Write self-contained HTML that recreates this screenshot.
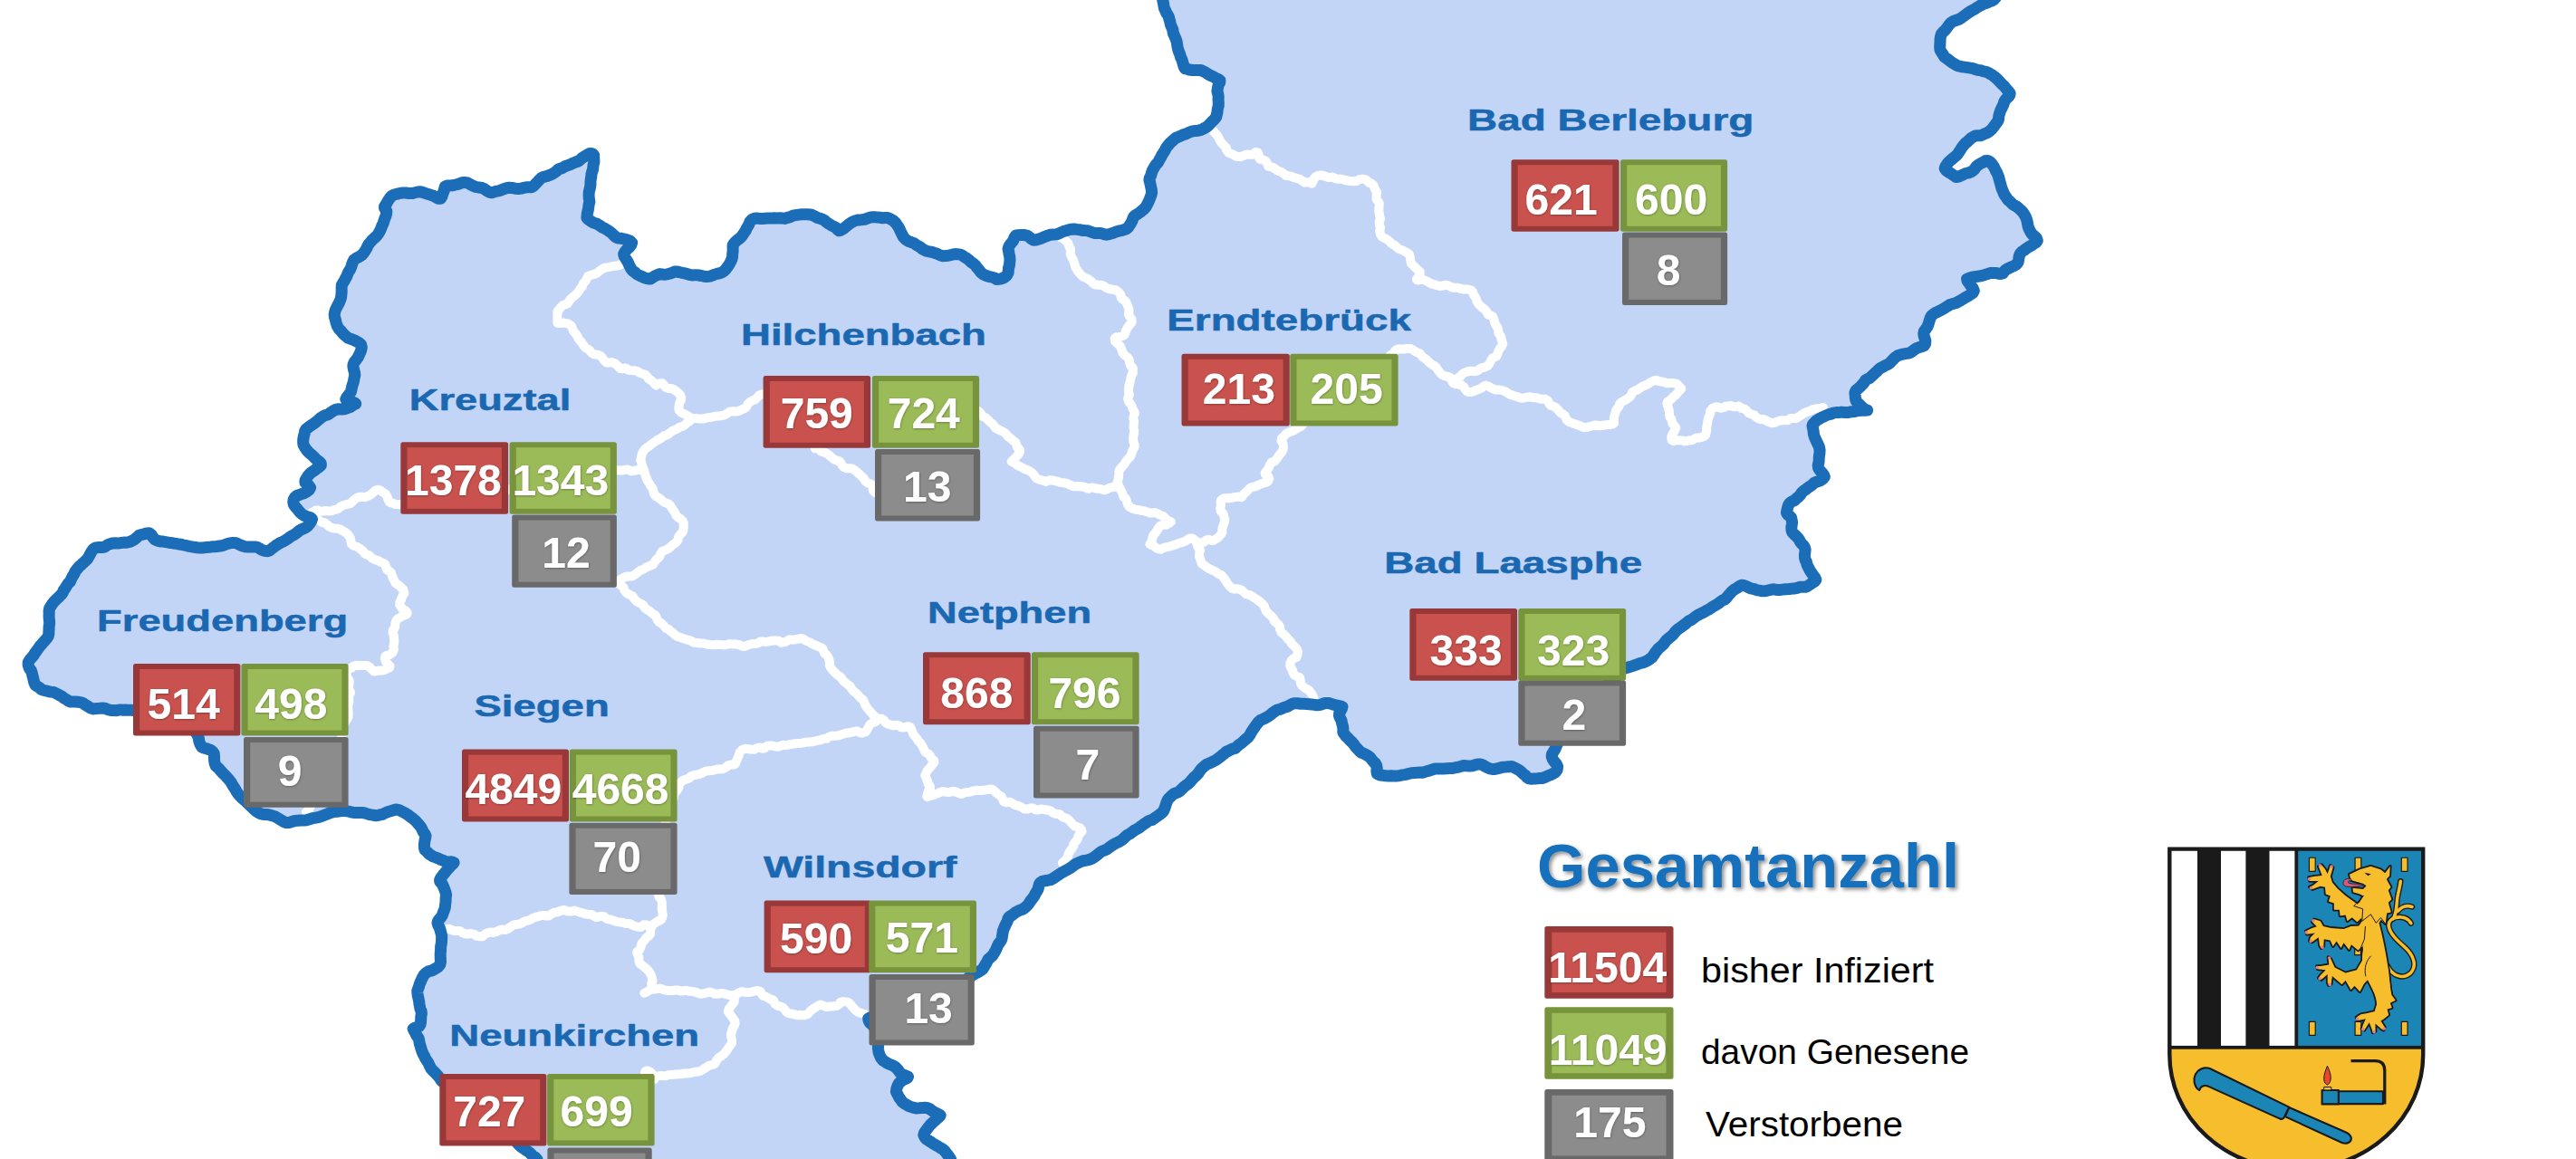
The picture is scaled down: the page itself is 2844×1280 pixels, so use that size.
<!DOCTYPE html>
<html lang="de"><head><meta charset="utf-8"><title>Corona-Fallzahlen Kreis Siegen-Wittgenstein</title>
<style>
html,body{margin:0;padding:0;background:#fff;}
body{width:2844px;height:1280px;overflow:hidden;}
svg{display:block}
</style></head><body>
<svg width="2844" height="1280" viewBox="0 0 2844 1280">
<defs>
<filter id="ts" x="-5%" y="-20%" width="110%" height="150%"><feDropShadow dx="2.5" dy="2.5" stdDeviation="2.2" flood-color="#000" flood-opacity="0.45"/></filter>
<filter id="ns" x="-10%" y="-20%" width="120%" height="150%"><feDropShadow dx="0.4" dy="0.7" stdDeviation="1.1" flood-color="#000" flood-opacity="0.38"/></filter>
</defs>
<rect width="2844" height="1280" fill="#fff"/>
<g>
<path d="M147.9 784.5 L144.4 784.2 L140.8 784.3 L138.4 784.0 L136.1 784.2 L133.8 784.0 L131.6 784.0 L128.6 784.7 L125.2 784.5 L122.2 784.4 L119.0 783.7 L115.8 782.2 L113.0 782.0 L109.8 782.3 L106.7 782.5 L103.3 782.9 L100.0 782.0 L96.9 780.0 L94.1 778.4 L91.9 776.8 L89.0 775.6 L86.1 775.3 L83.2 775.0 L80.2 775.0 L77.7 775.0 L75.5 774.0 L73.2 772.5 L70.8 771.1 L68.1 769.0 L65.3 767.6 L62.3 766.0 L59.0 764.4 L55.7 764.1 L52.0 763.2 L48.7 762.5 L45.7 761.4 L43.2 759.1 L40.8 757.8 L39.2 756.7 L38.4 755.3 L37.6 753.2 L37.0 750.3 L36.1 746.9 L35.2 743.0 L34.2 740.2 L32.7 738.8 L31.9 736.7 L31.2 734.2 L31.2 731.6 L32.9 728.7 L34.9 726.3 L36.8 724.2 L38.3 721.8 L40.1 719.2 L42.1 716.5 L43.9 713.8 L45.9 711.7 L47.7 709.4 L49.8 707.2 L51.8 705.0 L53.4 702.3 L53.9 699.6 L53.9 697.2 L54.1 694.9 L54.1 692.0 L54.6 689.1 L54.6 686.2 L54.2 683.1 L54.1 680.1 L54.2 677.4 L54.1 674.7 L54.7 671.7 L56.1 669.5 L57.6 667.1 L59.7 664.5 L61.6 662.5 L64.0 660.3 L66.0 658.3 L67.8 656.6 L69.4 654.2 L70.3 651.8 L72.1 649.6 L73.6 647.0 L75.2 644.5 L77.5 642.3 L78.8 639.2 L80.4 636.1 L82.1 633.5 L83.1 631.0 L85.0 628.6 L86.6 626.6 L88.0 625.2 L90.0 623.6 L91.7 621.8 L94.1 619.7 L96.5 617.3 L98.2 614.5 L99.5 612.0 L100.8 609.5 L102.8 606.7 L105.5 604.9 L109.1 604.6 L112.6 604.4 L115.0 604.2 L116.6 603.4 L118.6 601.9 L120.8 600.9 L123.8 600.0 L127.4 599.7 L130.5 600.1 L133.5 599.5 L136.6 599.1 L139.7 599.2 L143.0 598.5 L146.3 597.1 L149.2 595.2 L151.6 593.1 L153.6 591.2 L155.8 590.6 L158.7 590.0 L161.9 588.9 L164.6 588.7 L167.0 590.3 L168.8 593.3 L170.7 595.6 L173.9 597.2 L176.9 597.9 L179.9 598.0 L183.0 598.7 L186.2 599.2 L189.3 599.5 L192.2 600.1 L195.9 600.7 L199.5 601.2 L202.9 602.0 L206.3 602.7 L209.2 603.4 L211.8 603.8 L214.7 604.3 L217.5 604.7 L220.2 604.9 L223.7 604.9 L227.4 604.6 L230.8 604.3 L233.8 603.8 L236.5 603.7 L239.2 603.5 L242.6 603.0 L246.0 602.5 L248.6 601.5 L251.2 600.5 L253.9 599.9 L257.1 599.4 L260.9 599.8 L263.6 601.1 L266.7 602.5 L270.2 603.7 L273.9 604.0 L277.8 603.9 L281.3 603.9 L284.1 604.4 L286.3 605.6 L288.5 606.9 L290.9 607.9 L293.1 608.5 L295.6 608.7 L297.6 607.9 L299.4 606.4 L301.6 604.8 L303.9 603.0 L306.7 601.1 L309.5 599.5 L312.7 598.1 L315.2 596.7 L317.4 595.2 L319.6 593.6 L321.8 592.0 L324.4 590.7 L326.2 589.4 L328.2 588.0 L330.2 586.3 L332.4 584.9 L335.0 583.9 L337.4 582.7 L339.8 581.0 L341.8 578.5 L343.6 575.7 L344.5 573.2 L342.5 571.5 L339.5 570.8 L336.7 569.9 L334.1 568.4 L332.0 566.6 L329.9 564.2 L328.0 561.8 L326.0 559.6 L324.3 557.2 L323.8 554.4 L324.1 552.0 L325.3 549.6 L327.5 547.6 L330.1 546.6 L333.0 545.5 L335.6 544.7 L338.0 543.4 L341.3 541.0 L342.6 538.5 L340.9 536.2 L338.7 534.3 L336.9 532.9 L337.0 530.6 L338.4 528.2 L339.9 525.8 L342.1 523.2 L344.6 521.2 L346.9 519.7 L349.4 517.8 L352.1 515.9 L354.3 514.2 L354.3 511.9 L352.7 509.9 L350.4 508.4 L348.3 506.5 L346.2 504.3 L343.7 502.0 L341.3 500.0 L339.2 497.8 L337.5 495.5 L336.3 493.7 L335.0 491.1 L334.6 488.0 L334.8 485.0 L335.4 481.7 L336.2 478.6 L336.7 476.1 L338.0 473.9 L340.5 472.0 L343.1 470.1 L345.7 468.3 L348.8 466.1 L351.7 463.6 L354.1 461.5 L356.8 459.8 L359.1 458.6 L361.3 458.2 L363.1 457.3 L364.9 455.8 L367.4 454.2 L370.1 452.6 L373.1 451.8 L377.1 452.1 L380.6 451.7 L383.6 450.6 L386.6 449.6 L388.8 448.1 L391.0 446.6 L392.7 445.9 L391.8 445.1 L389.5 444.0 L386.7 443.7 L383.6 442.7 L381.8 440.9 L382.6 439.2 L384.2 437.1 L385.8 435.0 L387.4 432.8 L388.1 429.8 L388.8 426.4 L389.9 423.0 L390.6 420.3 L391.1 417.4 L391.8 414.2 L391.5 411.3 L390.4 407.6 L389.9 404.6 L390.0 402.6 L391.2 399.9 L393.3 397.3 L395.1 394.8 L396.7 391.5 L397.9 388.9 L398.7 386.6 L399.3 383.5 L398.6 380.7 L395.8 378.2 L392.2 376.3 L389.1 375.0 L386.8 374.1 L384.6 373.4 L382.8 371.9 L380.7 370.2 L378.4 368.0 L376.6 365.6 L374.4 363.4 L372.4 360.3 L371.2 356.7 L370.4 353.2 L369.4 349.8 L369.2 346.8 L369.8 344.2 L370.5 341.9 L371.7 339.6 L372.9 337.2 L374.3 334.6 L375.5 331.8 L376.3 329.6 L376.7 327.3 L377.0 324.4 L377.2 321.7 L377.1 318.2 L377.3 314.9 L378.6 312.5 L380.2 310.0 L381.6 307.3 L382.9 305.0 L383.9 302.3 L384.8 300.1 L386.4 298.0 L387.7 295.0 L388.5 292.2 L389.5 289.6 L390.8 287.1 L393.4 285.2 L396.5 283.7 L399.6 281.6 L401.8 279.0 L403.3 276.7 L404.9 274.0 L405.8 271.8 L407.1 269.7 L408.9 267.5 L411.0 265.0 L413.6 262.7 L416.3 260.1 L418.1 257.5 L419.5 255.0 L420.8 252.1 L421.7 249.5 L422.9 247.1 L423.9 244.2 L424.9 241.1 L426.0 238.3 L426.7 235.4 L426.8 233.1 L425.8 231.8 L424.6 229.9 L424.5 228.0 L425.9 226.1 L427.5 223.4 L429.0 220.8 L430.8 218.2 L432.5 216.3 L435.0 215.1 L437.3 214.4 L439.5 214.0 L442.4 213.3 L445.2 213.1 L448.3 213.0 L451.5 213.6 L454.8 213.6 L458.0 212.8 L461.4 212.0 L464.3 211.7 L466.7 212.5 L469.4 213.4 L472.0 214.3 L474.9 215.1 L478.3 216.2 L481.4 218.0 L484.2 219.3 L486.5 219.3 L487.9 217.1 L488.9 213.7 L490.1 210.9 L490.8 208.0 L491.3 206.0 L493.4 205.1 L496.6 205.0 L499.5 204.8 L503.2 204.0 L506.8 203.1 L509.4 202.0 L512.7 201.4 L516.2 202.0 L519.1 203.6 L522.2 205.2 L525.2 206.4 L528.1 207.0 L531.0 207.2 L534.2 208.4 L536.8 210.2 L538.5 211.3 L540.7 212.3 L543.0 212.8 L545.2 212.1 L547.9 211.2 L550.4 210.9 L553.1 210.0 L556.1 208.7 L559.2 207.7 L562.2 207.2 L565.1 207.5 L568.8 208.2 L572.4 208.5 L575.6 208.1 L578.6 207.3 L581.0 206.8 L583.5 206.8 L586.7 206.7 L589.3 205.3 L591.5 202.8 L593.8 200.5 L595.7 198.4 L597.8 196.4 L600.4 195.3 L603.8 194.5 L607.5 193.2 L610.7 191.6 L613.3 189.9 L615.1 188.3 L616.4 186.9 L618.4 186.3 L620.9 185.5 L623.4 183.9 L626.3 182.8 L629.7 181.6 L632.6 180.2 L635.5 179.0 L638.5 178.0 L640.7 176.3 L642.8 174.4 L645.3 172.9 L648.2 171.0 L651.3 169.4 L654.1 169.7 L655.7 171.4 L655.6 173.7 L655.8 176.3 L655.9 179.0 L655.2 181.6 L654.8 184.5 L654.7 186.8 L653.9 189.0 L653.0 192.2 L652.7 195.6 L652.2 198.6 L651.9 201.3 L652.0 203.7 L651.7 206.0 L651.0 209.2 L650.2 212.4 L650.1 215.7 L650.2 218.4 L650.5 220.2 L650.9 222.9 L650.2 225.4 L649.8 228.4 L649.3 232.2 L648.5 234.9 L648.1 237.9 L647.9 240.6 L649.2 242.0 L652.0 244.1 L655.4 246.1 L659.2 247.3 L662.6 249.3 L665.0 251.2 L667.2 252.1 L669.5 253.4 L672.0 255.0 L674.8 257.0 L677.4 259.6 L680.0 262.0 L682.8 263.1 L685.9 263.3 L689.2 264.0 L692.1 264.8 L695.6 266.1 L697.6 268.1 L696.9 270.4 L694.9 273.0 L692.2 275.3 L689.9 278.1 L688.7 280.6 L689.4 283.4 L691.6 286.9 L693.3 289.7 L694.7 292.9 L695.9 295.1 L696.8 297.0 L698.7 299.2 L701.1 300.9 L703.4 303.0 L706.5 304.5 L709.5 305.8 L712.4 307.2 L715.9 307.9 L718.5 307.9 L720.5 306.3 L723.0 304.9 L725.8 303.6 L728.4 302.6 L731.4 303.0 L734.4 303.2 L736.9 302.8 L740.0 302.0 L742.7 300.9 L744.7 300.1 L747.0 300.0 L749.6 300.5 L753.2 301.3 L757.4 302.2 L760.9 303.3 L764.0 303.9 L766.7 303.8 L769.0 303.8 L771.5 304.0 L774.3 304.5 L777.3 305.2 L780.5 305.5 L783.9 305.1 L786.5 304.2 L789.2 303.1 L791.5 302.4 L793.6 302.0 L796.5 301.1 L799.0 299.7 L801.0 297.7 L803.2 294.8 L805.0 292.1 L806.5 289.4 L807.9 286.5 L808.6 283.7 L808.7 280.6 L809.1 277.6 L809.1 274.2 L809.1 271.0 L810.5 268.5 L812.4 266.6 L814.6 264.7 L817.3 262.7 L819.6 260.1 L821.6 257.0 L823.3 254.6 L824.2 252.3 L825.5 250.2 L826.8 248.0 L828.0 244.8 L830.4 242.3 L832.9 241.3 L835.5 241.0 L838.8 241.4 L841.5 241.4 L844.5 241.2 L847.5 241.0 L850.0 241.0 L852.6 241.1 L854.7 240.8 L857.7 240.9 L860.7 240.7 L863.6 241.0 L866.5 241.4 L868.5 240.6 L870.4 240.1 L872.9 239.4 L875.5 238.2 L878.5 237.6 L881.9 237.1 L885.4 236.7 L888.8 236.7 L891.8 236.7 L894.2 237.0 L896.3 237.3 L899.0 238.6 L902.4 240.4 L905.6 241.3 L908.3 242.3 L910.5 243.6 L912.2 245.1 L914.7 247.0 L917.9 248.9 L920.6 250.3 L922.8 251.4 L924.5 253.5 L926.4 254.8 L928.8 254.0 L931.4 252.4 L933.8 250.5 L935.7 248.8 L937.5 247.4 L940.0 245.8 L943.1 244.1 L946.4 243.1 L949.3 242.9 L952.0 242.6 L954.5 242.3 L957.0 241.4 L960.1 240.2 L963.4 239.8 L966.0 239.8 L968.7 240.1 L971.7 240.3 L974.4 240.7 L977.2 240.5 L980.0 240.5 L982.3 241.5 L984.2 242.5 L986.5 244.0 L988.9 246.3 L990.5 248.6 L992.3 251.2 L993.5 253.9 L994.6 256.2 L996.0 259.0 L997.5 261.9 L1000.0 264.6 L1002.8 266.4 L1005.0 267.2 L1007.2 268.0 L1009.2 268.7 L1010.9 270.1 L1013.6 271.6 L1016.3 273.2 L1018.4 275.0 L1020.9 276.4 L1023.3 277.3 L1026.2 278.0 L1029.1 278.4 L1031.7 279.3 L1034.4 280.2 L1037.1 281.5 L1040.5 282.8 L1044.0 282.6 L1047.0 282.2 L1050.1 281.6 L1053.3 280.7 L1056.1 280.6 L1059.4 280.9 L1062.4 282.0 L1064.3 283.5 L1067.0 285.1 L1070.0 287.4 L1072.2 289.5 L1074.8 291.2 L1077.0 293.1 L1078.3 295.1 L1080.0 297.0 L1081.7 299.1 L1083.2 301.2 L1085.4 302.9 L1088.2 304.3 L1091.4 305.3 L1094.4 306.0 L1096.7 306.5 L1098.6 307.4 L1100.3 308.5 L1102.5 308.3 L1105.6 307.8 L1108.9 306.4 L1111.5 304.3 L1113.1 301.3 L1113.3 298.1 L1113.5 295.9 L1114.4 293.0 L1114.7 290.1 L1115.0 287.1 L1114.8 283.8 L1114.2 281.2 L1113.7 278.0 L1113.1 274.9 L1113.7 272.7 L1114.9 270.5 L1116.9 268.0 L1118.7 265.7 L1119.7 262.7 L1121.4 260.2 L1124.0 259.7 L1127.4 259.5 L1131.0 259.6 L1134.4 260.4 L1136.7 262.0 L1138.9 264.1 L1141.2 265.3 L1143.1 265.1 L1145.7 264.4 L1148.6 263.6 L1151.0 262.5 L1153.8 261.3 L1156.7 260.2 L1159.6 259.3 L1163.0 259.1 L1166.4 258.8 L1169.1 257.8 L1171.7 256.6 L1174.0 255.6 L1176.4 254.9 L1179.3 254.0 L1182.4 253.2 L1185.8 253.0 L1188.8 253.4 L1191.7 253.7 L1194.8 254.4 L1197.7 254.6 L1200.5 254.7 L1203.7 255.8 L1206.2 256.8 L1208.6 257.4 L1211.8 257.5 L1214.2 257.4 L1216.5 257.8 L1219.1 258.8 L1221.6 259.2 L1224.7 258.6 L1228.4 257.6 L1232.1 256.0 L1235.7 255.0 L1239.0 254.4 L1241.4 253.5 L1243.5 252.8 L1245.6 251.2 L1246.8 249.2 L1248.4 246.7 L1249.9 244.1 L1250.6 241.9 L1251.8 239.4 L1253.5 237.7 L1256.1 236.3 L1258.9 234.3 L1261.0 232.5 L1263.1 230.7 L1264.9 228.8 L1266.2 226.5 L1267.6 223.7 L1269.0 220.6 L1270.1 217.7 L1271.0 215.3 L1271.6 212.8 L1271.4 209.9 L1270.7 206.7 L1270.1 203.7 L1269.6 201.1 L1268.9 199.0 L1269.2 196.7 L1270.6 194.0 L1271.5 190.8 L1272.6 187.8 L1274.3 184.9 L1275.9 182.2 L1277.7 180.3 L1279.2 178.3 L1280.3 175.9 L1281.7 173.6 L1282.7 171.3 L1284.6 168.5 L1286.2 166.0 L1287.5 163.3 L1289.8 160.4 L1292.0 157.7 L1294.1 155.9 L1295.9 154.2 L1298.3 152.2 L1300.8 151.3 L1303.1 150.3 L1306.5 148.7 L1309.7 147.7 L1312.5 146.3 L1315.7 145.2 L1318.3 144.7 L1320.2 144.4 L1323.0 144.2 L1326.4 143.4 L1329.3 141.8 L1331.7 140.5 L1333.9 138.8 L1335.9 136.7 L1338.0 134.4 L1340.9 131.6 L1342.9 128.7 L1343.3 126.7 L1343.8 125.0 L1344.0 123.2 L1344.3 120.5 L1345.2 117.0 L1345.3 113.6 L1345.0 109.8 L1345.2 106.3 L1344.6 103.4 L1343.9 100.6 L1344.3 98.2 L1344.7 95.7 L1345.4 93.3 L1346.7 91.2 L1346.9 88.9 L1344.8 87.4 L1341.9 86.1 L1339.2 84.5 L1336.4 83.4 L1333.7 81.8 L1331.1 80.1 L1328.4 78.7 L1325.7 77.5 L1322.9 77.4 L1319.6 77.4 L1316.3 77.5 L1313.1 77.0 L1310.5 76.1 L1308.5 75.8 L1307.4 74.3 L1306.5 71.6 L1305.7 68.6 L1304.7 65.5 L1303.5 63.1 L1303.0 61.2 L1302.4 59.1 L1301.1 56.1 L1300.2 52.5 L1299.6 49.1 L1299.1 45.8 L1298.2 43.2 L1297.1 40.7 L1296.1 38.4 L1295.2 36.2 L1294.9 33.1 L1293.7 30.2 L1292.4 27.3 L1291.7 23.7 L1290.8 20.8 L1290.3 18.4 L1289.0 16.1 L1287.7 14.3 L1286.8 11.9 L1285.5 9.2 L1284.9 6.3 L1284.4 3.2 L1283.7 0.3 L1283.9 -2.6 L1284.0 -5.9 L1283.9 -9.1 L1284.2 -12.1 L1284.3 -15.3 L1284.1 -18.5 L1283.4 -21.6 L1282.5 -24.3 L1281.9 -26.9 L1282.5 -28.7 L1285.2 -29.2 L1288.6 -29.6 L1291.8 -30.1 L1295.0 -30.6 L1298.3 -31.1 L1301.5 -31.5 L1304.3 -31.5 L1306.9 -31.6 L1309.2 -31.3 L1311.7 -31.2 L1313.9 -30.8 L1316.7 -29.9 L1319.6 -29.5 L1323.0 -29.1 L1326.5 -29.1 L1329.4 -29.9 L1332.8 -30.5 L1335.8 -30.8 L1338.8 -30.8 L1342.5 -30.4 L1345.5 -30.3 L1348.3 -30.6 L1351.5 -30.9 L1353.8 -31.4 L1356.0 -31.8 L1359.1 -31.6 L1362.1 -31.1 L1365.4 -30.8 L1369.3 -30.7 L1372.8 -31.0 L1376.0 -31.6 L1379.2 -31.4 L1382.2 -30.9 L1384.7 -30.5 L1387.1 -29.6 L1389.9 -29.0 L1393.0 -28.6 L1396.4 -28.6 L1400.0 -29.5 L1402.7 -30.2 L1404.8 -30.2 L1406.9 -29.6 L1409.8 -28.8 L1413.6 -28.9 L1417.3 -29.8 L1420.4 -30.2 L1423.5 -30.3 L1426.7 -29.8 L1429.8 -29.2 L1433.1 -29.0 L1436.0 -29.2 L1438.4 -29.8 L1441.5 -30.5 L1444.8 -31.1 L1447.6 -31.2 L1450.4 -30.5 L1453.3 -29.5 L1456.5 -28.8 L1459.6 -28.3 L1462.9 -28.1 L1466.0 -28.2 L1468.4 -28.5 L1471.0 -28.8 L1473.8 -28.9 L1476.3 -29.1 L1479.5 -29.2 L1483.2 -29.3 L1486.2 -29.6 L1489.2 -29.8 L1492.4 -29.6 L1495.8 -29.7 L1498.9 -29.8 L1501.9 -29.5 L1504.6 -29.3 L1506.8 -29.4 L1509.9 -29.5 L1513.1 -29.6 L1516.5 -30.0 L1520.2 -30.0 L1523.2 -29.5 L1526.4 -30.0 L1529.5 -30.1 L1532.3 -30.2 L1535.3 -31.0 L1538.0 -31.2 L1540.9 -30.9 L1543.9 -30.4 L1546.6 -29.8 L1549.2 -29.0 L1551.8 -28.6 L1554.4 -28.6 L1556.8 -28.5 L1559.8 -29.1 L1562.8 -29.6 L1565.9 -29.9 L1569.9 -30.4 L1573.8 -30.3 L1576.9 -30.0 L1579.2 -30.0 L1581.8 -30.2 L1584.5 -30.0 L1587.6 -30.2 L1591.5 -30.2 L1594.9 -29.4 L1597.5 -29.3 L1600.7 -29.2 L1603.4 -29.2 L1605.6 -29.6 L1608.2 -29.6 L1611.0 -30.4 L1614.5 -30.8 L1618.8 -30.6 L1622.3 -30.1 L1625.0 -29.6 L1627.0 -29.4 L1629.1 -29.6 L1632.3 -30.4 L1635.8 -31.0 L1639.1 -30.9 L1642.2 -30.9 L1644.7 -30.7 L1647.2 -29.7 L1649.8 -29.2 L1652.7 -28.7 L1655.9 -28.6 L1658.9 -29.2 L1661.8 -30.0 L1664.9 -30.5 L1668.4 -29.9 L1672.0 -29.1 L1675.8 -28.6 L1679.1 -28.9 L1681.2 -30.0 L1683.6 -31.0 L1686.7 -31.6 L1690.2 -30.9 L1693.5 -29.8 L1697.0 -29.2 L1699.7 -28.9 L1702.2 -28.8 L1705.4 -29.1 L1707.9 -29.3 L1710.5 -29.4 L1713.1 -29.3 L1715.3 -29.0 L1718.1 -28.2 L1721.5 -27.7 L1725.0 -27.7 L1728.5 -27.9 L1731.6 -28.0 L1734.4 -28.6 L1737.5 -29.6 L1740.7 -30.3 L1743.5 -31.2 L1746.5 -30.9 L1749.4 -29.8 L1752.7 -29.1 L1756.6 -28.8 L1759.4 -29.1 L1761.7 -29.5 L1764.0 -29.7 L1766.7 -29.5 L1769.8 -29.5 L1773.2 -30.1 L1776.8 -30.2 L1780.0 -29.7 L1783.2 -28.9 L1786.4 -28.0 L1789.3 -28.1 L1792.4 -29.0 L1795.4 -29.5 L1798.6 -29.7 L1802.0 -29.7 L1805.2 -29.7 L1808.7 -30.2 L1811.5 -30.5 L1813.6 -30.0 L1816.2 -29.7 L1818.7 -29.5 L1822.0 -29.4 L1825.9 -30.0 L1829.3 -30.1 L1832.6 -29.8 L1835.2 -29.2 L1837.4 -28.9 L1840.0 -29.3 L1842.5 -29.7 L1845.6 -29.8 L1848.7 -30.0 L1851.3 -29.8 L1854.6 -29.9 L1858.0 -30.6 L1861.1 -30.3 L1863.9 -29.7 L1866.3 -29.8 L1868.7 -30.0 L1871.8 -30.4 L1875.7 -30.6 L1879.3 -30.4 L1882.6 -30.6 L1885.6 -30.8 L1888.1 -31.4 L1891.0 -31.3 L1893.8 -30.7 L1896.9 -30.0 L1900.5 -29.2 L1903.4 -28.9 L1906.6 -29.0 L1909.5 -29.1 L1911.8 -29.0 L1915.0 -29.4 L1918.2 -29.6 L1920.6 -29.2 L1923.6 -29.7 L1926.6 -30.2 L1929.8 -30.7 L1933.8 -31.1 L1937.1 -30.8 L1939.5 -30.0 L1941.5 -29.6 L1943.4 -29.8 L1945.8 -29.9 L1949.1 -30.1 L1952.6 -29.6 L1956.0 -29.3 L1959.6 -29.6 L1962.9 -29.5 L1965.6 -29.3 L1968.9 -29.4 L1971.9 -29.6 L1975.0 -30.0 L1978.5 -30.8 L1981.1 -31.0 L1983.5 -30.3 L1986.2 -29.9 L1989.1 -29.6 L1992.2 -29.5 L1995.7 -29.6 L1999.0 -29.3 L2001.5 -29.1 L2004.6 -29.3 L2007.7 -29.6 L2011.0 -30.5 L2014.7 -30.5 L2017.9 -29.9 L2020.7 -29.4 L2022.9 -29.0 L2025.8 -29.1 L2028.5 -29.4 L2031.6 -30.0 L2035.1 -29.8 L2037.8 -29.2 L2041.1 -28.9 L2044.6 -28.7 L2047.7 -28.9 L2051.1 -29.4 L2053.7 -30.2 L2056.4 -30.6 L2059.1 -30.1 L2061.7 -29.8 L2064.8 -29.7 L2067.4 -29.4 L2070.1 -29.1 L2073.0 -29.0 L2075.8 -28.6 L2078.5 -28.9 L2081.5 -29.8 L2084.9 -30.7 L2088.2 -31.3 L2091.8 -31.5 L2095.3 -31.2 L2098.3 -30.8 L2101.8 -30.9 L2104.8 -31.1 L2107.2 -31.1 L2110.0 -31.1 L2112.6 -31.1 L2115.4 -30.7 L2118.0 -30.4 L2120.7 -30.4 L2123.6 -29.9 L2126.8 -29.7 L2130.5 -30.0 L2134.0 -30.6 L2136.8 -30.9 L2139.9 -31.3 L2143.3 -31.3 L2146.4 -31.3 L2149.2 -31.6 L2152.0 -31.5 L2154.9 -31.0 L2158.1 -30.0 L2161.7 -29.4 L2164.5 -29.4 L2167.2 -30.1 L2169.5 -30.7 L2172.3 -30.6 L2175.5 -30.2 L2178.7 -30.1 L2182.5 -30.5 L2185.7 -30.3 L2188.7 -30.1 L2191.4 -30.0 L2193.6 -29.8 L2196.2 -30.1 L2198.6 -30.1 L2201.6 -29.9 L2205.3 -29.9 L2208.6 -30.1 L2211.4 -30.6 L2213.5 -29.7 L2213.6 -27.3 L2212.4 -24.9 L2211.7 -22.1 L2210.2 -19.5 L2208.2 -16.8 L2207.4 -13.5 L2206.9 -10.9 L2206.3 -8.3 L2205.2 -5.6 L2203.6 -3.2 L2201.5 -0.6 L2198.8 1.1 L2196.2 1.9 L2193.5 3.3 L2190.7 4.1 L2188.1 5.2 L2185.3 6.7 L2182.3 8.5 L2179.9 10.2 L2177.8 11.3 L2175.2 12.7 L2172.9 14.2 L2170.4 16.1 L2167.3 18.4 L2164.8 20.2 L2162.4 21.5 L2159.3 22.5 L2156.2 23.6 L2153.9 25.1 L2151.8 27.5 L2150.2 29.7 L2148.9 31.5 L2147.3 33.5 L2145.2 35.4 L2143.3 37.7 L2142.5 40.5 L2142.1 43.1 L2142.0 46.2 L2141.8 49.3 L2141.7 52.3 L2142.0 55.2 L2143.4 57.4 L2145.0 60.0 L2146.7 62.7 L2149.7 64.9 L2152.5 67.1 L2154.8 68.9 L2157.4 70.4 L2159.9 71.9 L2162.5 73.0 L2165.6 73.7 L2168.9 74.1 L2172.4 74.6 L2175.4 75.1 L2178.5 75.6 L2181.2 76.8 L2183.6 77.4 L2187.0 77.8 L2190.0 78.8 L2192.9 79.3 L2195.7 80.6 L2197.9 82.1 L2199.8 83.1 L2202.3 85.0 L2205.2 87.5 L2207.5 90.0 L2210.2 92.9 L2213.1 95.6 L2215.0 98.1 L2217.4 100.7 L2219.1 103.1 L2218.7 105.1 L2217.1 107.1 L2214.8 109.2 L2212.9 111.9 L2211.9 115.3 L2210.4 118.5 L2208.7 121.9 L2207.6 125.4 L2206.9 127.6 L2206.6 129.7 L2206.4 132.1 L2205.4 134.2 L2203.4 136.9 L2201.2 139.9 L2199.1 142.7 L2196.6 144.9 L2194.3 146.5 L2191.7 147.6 L2189.0 148.7 L2186.6 149.7 L2183.7 149.7 L2180.8 150.0 L2178.8 151.1 L2176.6 152.2 L2174.5 154.2 L2172.3 156.4 L2169.9 158.1 L2167.9 160.5 L2166.0 162.8 L2164.8 164.9 L2163.4 167.1 L2161.5 170.0 L2159.4 172.2 L2156.7 174.3 L2154.2 176.5 L2152.1 178.2 L2149.9 180.8 L2148.0 183.6 L2147.2 186.1 L2148.8 188.5 L2151.9 190.4 L2154.5 192.0 L2157.2 193.9 L2159.6 195.5 L2162.1 195.1 L2164.6 194.1 L2167.1 193.0 L2170.1 191.5 L2173.5 190.8 L2176.4 189.7 L2178.5 188.2 L2180.0 186.9 L2181.2 184.8 L2182.9 183.1 L2184.8 181.6 L2187.0 180.4 L2189.5 179.3 L2191.7 177.8 L2194.6 177.4 L2196.9 178.5 L2199.0 180.9 L2201.3 184.0 L2202.5 186.6 L2203.6 188.9 L2204.8 190.9 L2205.5 192.6 L2206.5 195.1 L2207.2 198.0 L2208.1 201.2 L2209.1 204.8 L2209.9 207.8 L2211.2 210.8 L2212.2 213.5 L2213.3 215.5 L2214.9 217.8 L2216.5 220.3 L2219.0 222.5 L2220.9 224.4 L2222.3 225.9 L2224.3 227.0 L2226.4 228.1 L2228.5 229.8 L2230.6 231.7 L2232.8 233.9 L2234.9 236.7 L2236.6 239.9 L2237.8 243.2 L2238.5 246.6 L2239.0 249.5 L2239.8 252.1 L2241.1 254.8 L2242.3 256.8 L2243.7 258.9 L2246.2 260.9 L2248.4 263.0 L2249.3 265.7 L2247.7 267.9 L2244.6 269.9 L2241.8 271.6 L2239.3 273.0 L2236.8 274.8 L2234.8 276.3 L2232.5 277.7 L2230.4 279.9 L2229.3 282.6 L2228.7 286.3 L2228.0 289.5 L2226.5 291.7 L2223.9 293.4 L2220.7 294.7 L2217.4 296.4 L2214.4 298.0 L2212.5 300.0 L2211.4 301.7 L2209.2 302.4 L2206.3 302.2 L2202.8 301.4 L2198.5 301.4 L2195.1 302.3 L2192.4 303.2 L2189.4 304.2 L2186.6 304.8 L2183.5 305.2 L2180.2 305.7 L2177.1 306.2 L2173.9 307.2 L2171.6 308.2 L2172.0 310.1 L2173.9 312.7 L2175.7 315.4 L2178.1 318.2 L2179.3 321.2 L2178.0 323.6 L2175.7 325.1 L2173.2 326.7 L2170.4 328.2 L2167.7 330.0 L2164.8 331.7 L2161.9 333.3 L2158.8 334.8 L2155.4 335.7 L2152.5 336.7 L2150.0 338.3 L2147.5 339.9 L2145.0 341.3 L2142.4 342.8 L2139.2 344.4 L2136.6 345.5 L2134.3 347.1 L2132.4 348.7 L2131.1 351.2 L2130.1 354.4 L2129.2 357.6 L2128.0 360.7 L2126.1 363.4 L2124.3 366.0 L2123.8 368.2 L2124.1 370.9 L2124.9 373.5 L2125.8 376.1 L2125.6 379.6 L2124.2 381.9 L2120.8 383.0 L2117.2 384.1 L2114.8 385.3 L2112.2 387.2 L2109.9 389.0 L2107.3 390.1 L2103.9 390.5 L2100.9 391.1 L2098.0 391.8 L2094.9 392.9 L2092.4 394.7 L2090.4 396.7 L2088.4 398.8 L2086.5 400.8 L2084.3 402.4 L2081.5 403.7 L2078.9 405.2 L2076.4 406.4 L2074.1 408.0 L2072.2 410.1 L2069.6 412.4 L2066.4 415.4 L2064.1 417.6 L2061.7 418.7 L2059.6 419.9 L2058.6 421.7 L2056.5 424.3 L2053.9 427.0 L2051.3 429.3 L2048.8 431.5 L2047.9 433.9 L2048.2 436.8 L2048.4 439.4 L2048.8 441.7 L2049.4 443.2 L2050.8 444.9 L2053.0 446.9 L2055.5 449.2 L2058.1 451.5 L2060.6 452.7 L2061.6 453.1 L2059.3 453.2 L2055.7 453.3 L2052.6 453.4 L2049.7 454.0 L2047.1 454.5 L2044.5 454.7 L2040.9 455.4 L2036.7 455.5 L2033.0 455.1 L2029.9 455.6 L2027.2 455.6 L2024.7 455.9 L2021.6 457.1 L2018.4 457.9 L2014.9 459.4 L2011.9 460.8 L2009.4 462.1 L2006.6 463.8 L2004.8 465.1 L2003.3 466.7 L2001.6 468.5 L2001.0 470.2 L2001.3 472.1 L2001.8 474.5 L2002.2 476.9 L2002.4 479.6 L2003.4 482.7 L2004.9 486.1 L2006.7 489.9 L2008.4 493.5 L2009.1 497.2 L2008.9 500.7 L2008.5 503.1 L2008.2 505.8 L2008.2 508.7 L2007.9 510.9 L2007.2 514.0 L2007.6 517.2 L2008.9 519.1 L2011.2 521.6 L2013.5 524.5 L2014.3 526.6 L2012.3 529.0 L2009.2 531.0 L2006.0 531.9 L2002.8 533.4 L2000.5 535.6 L1998.0 537.3 L1995.4 539.2 L1993.5 540.7 L1991.4 542.0 L1989.2 544.2 L1987.4 546.9 L1985.2 549.1 L1982.8 551.1 L1981.1 552.7 L1979.1 553.5 L1977.0 554.8 L1975.6 556.2 L1974.4 558.2 L1973.5 561.2 L1972.8 564.1 L1972.5 566.4 L1973.8 568.4 L1976.1 570.1 L1977.6 571.7 L1978.1 574.2 L1978.6 576.7 L1978.3 579.2 L1977.8 582.2 L1978.0 585.4 L1978.8 587.9 L1980.7 590.0 L1983.0 592.0 L1984.6 593.7 L1986.3 595.8 L1987.4 598.2 L1989.0 600.4 L1991.1 602.4 L1992.4 604.6 L1993.1 607.1 L1992.8 610.1 L1992.4 612.8 L1992.5 615.8 L1993.2 618.5 L1994.3 620.3 L1994.8 622.8 L1995.7 625.1 L1996.9 627.3 L1998.3 630.2 L2000.2 633.0 L2002.1 635.7 L2004.0 638.2 L2004.8 640.3 L2003.4 642.2 L2000.6 643.9 L1997.6 646.0 L1995.4 647.5 L1993.0 648.3 L1990.0 648.3 L1987.0 648.3 L1984.0 649.4 L1981.5 649.9 L1978.8 650.1 L1975.3 650.5 L1971.5 650.7 L1967.8 651.1 L1964.5 651.6 L1961.4 651.4 L1958.5 650.8 L1955.2 651.2 L1952.0 652.0 L1949.1 652.7 L1946.0 652.8 L1943.5 652.3 L1940.7 651.9 L1938.3 651.2 L1936.2 650.5 L1933.0 649.8 L1930.1 648.7 L1927.6 647.3 L1924.9 646.4 L1923.1 646.2 L1920.6 647.4 L1917.8 649.4 L1914.9 651.0 L1912.1 653.1 L1910.1 655.5 L1908.1 657.7 L1906.2 660.1 L1904.0 662.1 L1901.7 663.0 L1899.5 664.5 L1897.1 666.5 L1894.6 668.1 L1891.6 669.7 L1888.8 671.6 L1886.3 673.2 L1883.6 674.6 L1880.8 676.3 L1878.1 677.5 L1875.3 678.9 L1872.3 680.7 L1869.7 682.8 L1867.0 684.7 L1864.6 685.7 L1863.1 687.1 L1861.3 688.6 L1859.2 690.1 L1856.3 692.2 L1853.8 694.0 L1851.6 695.7 L1849.4 697.9 L1847.2 700.8 L1844.3 703.3 L1841.6 705.4 L1839.8 707.1 L1838.3 709.0 L1837.0 710.9 L1835.0 712.9 L1832.3 715.2 L1830.4 716.9 L1829.0 718.8 L1827.3 720.9 L1825.7 723.4 L1823.9 726.0 L1821.5 727.8 L1819.4 729.4 L1816.7 730.7 L1813.7 731.8 L1811.2 732.3 L1808.8 733.3 L1806.9 734.1 L1804.4 734.8 L1801.2 736.0 L1797.7 736.9 L1794.2 737.9 L1791.6 738.7 L1789.6 740.7 L1787.5 742.7 L1785.9 744.9 L1784.4 747.4 L1782.8 749.1 L1781.0 751.3 L1778.1 753.7 L1774.7 755.8 L1771.5 757.9 L1769.4 760.0 L1767.8 762.1 L1766.0 764.9 L1764.4 768.0 L1762.2 770.5 L1760.0 772.5 L1758.2 774.4 L1756.1 776.4 L1754.3 778.1 L1752.5 780.2 L1750.6 782.6 L1748.8 785.0 L1746.9 787.9 L1745.2 790.3 L1743.4 792.4 L1741.7 794.9 L1739.6 797.3 L1737.6 800.0 L1735.3 802.6 L1732.9 804.8 L1731.2 806.9 L1729.2 808.7 L1727.3 810.7 L1725.4 813.1 L1722.8 815.4 L1721.1 817.8 L1719.7 820.7 L1718.4 823.6 L1717.1 826.9 L1715.0 830.3 L1713.4 833.0 L1713.2 835.6 L1714.1 838.2 L1715.8 840.9 L1718.2 843.6 L1719.6 846.5 L1719.1 850.1 L1717.1 852.9 L1714.2 854.6 L1711.7 855.8 L1709.4 856.6 L1706.3 858.1 L1703.0 859.4 L1699.8 859.6 L1697.5 859.8 L1695.4 859.9 L1693.2 859.9 L1690.9 860.3 L1688.1 859.9 L1685.9 858.5 L1684.2 856.5 L1681.7 854.6 L1679.5 852.5 L1677.1 850.5 L1674.3 849.1 L1671.8 847.7 L1669.1 846.6 L1666.0 846.7 L1662.4 847.0 L1658.9 847.2 L1655.7 848.2 L1652.8 848.8 L1650.2 849.4 L1647.5 849.4 L1644.7 848.9 L1641.8 847.6 L1639.2 846.2 L1637.1 844.9 L1634.7 843.9 L1631.7 843.9 L1628.7 844.8 L1625.7 845.7 L1622.7 845.9 L1620.4 845.9 L1618.3 845.7 L1616.0 845.5 L1613.5 846.3 L1610.6 847.1 L1607.6 847.7 L1604.0 848.4 L1600.5 848.6 L1597.2 848.8 L1593.2 849.0 L1590.0 848.9 L1587.4 849.0 L1584.2 849.1 L1581.2 850.0 L1578.2 850.9 L1574.5 852.0 L1571.2 853.2 L1568.3 853.0 L1564.7 853.2 L1561.6 853.6 L1558.3 853.7 L1555.0 854.6 L1551.9 855.4 L1548.5 855.9 L1545.9 856.4 L1543.9 856.7 L1541.3 857.0 L1538.8 856.9 L1535.9 856.8 L1532.5 856.9 L1529.5 856.8 L1526.0 856.2 L1522.6 855.7 L1520.2 854.3 L1519.9 851.5 L1520.2 848.3 L1519.7 845.4 L1518.4 843.0 L1516.3 841.2 L1514.4 838.9 L1512.6 836.3 L1509.9 834.5 L1507.4 833.1 L1505.1 831.9 L1502.5 831.0 L1500.6 829.1 L1498.7 826.9 L1496.8 825.1 L1495.1 822.5 L1492.9 819.9 L1490.4 817.6 L1488.1 815.0 L1486.1 813.3 L1485.0 811.8 L1483.8 810.3 L1482.8 808.5 L1482.9 805.5 L1482.6 802.4 L1481.7 799.1 L1480.9 795.5 L1479.5 792.9 L1478.5 790.3 L1478.7 787.5 L1480.0 785.2 L1481.4 782.6 L1481.9 780.6 L1480.1 779.8 L1476.4 779.2 L1472.6 778.2 L1469.0 777.1 L1466.1 776.4 L1463.9 776.5 L1461.3 777.0 L1459.0 777.9 L1456.6 778.6 L1453.8 778.8 L1451.3 778.4 L1447.9 777.9 L1443.6 777.6 L1439.8 777.2 L1436.1 777.2 L1432.6 776.7 L1429.6 776.7 L1426.5 777.4 L1424.0 778.7 L1421.6 780.2 L1418.8 781.0 L1416.2 782.1 L1413.0 783.4 L1410.0 784.0 L1407.9 785.3 L1405.7 786.8 L1403.7 788.5 L1401.0 790.7 L1397.7 792.6 L1394.6 794.1 L1391.5 795.5 L1389.6 797.1 L1388.3 798.9 L1386.6 801.0 L1385.1 803.3 L1383.2 806.0 L1381.4 808.8 L1379.9 811.6 L1378.3 814.0 L1376.2 815.8 L1373.6 818.0 L1370.8 820.6 L1368.0 822.4 L1365.7 824.5 L1363.7 826.3 L1361.1 826.9 L1358.6 828.1 L1356.1 829.4 L1353.6 830.4 L1351.8 832.3 L1349.1 834.3 L1345.9 836.8 L1342.8 839.2 L1339.3 841.0 L1336.8 842.3 L1334.8 843.1 L1332.0 844.3 L1329.3 846.5 L1326.7 848.8 L1324.6 851.5 L1322.9 854.1 L1321.4 855.8 L1320.0 857.1 L1318.0 858.8 L1316.2 860.8 L1314.6 862.9 L1312.1 865.4 L1309.2 867.5 L1306.8 869.4 L1304.4 871.8 L1302.4 873.7 L1300.9 874.8 L1298.3 875.7 L1295.8 876.8 L1293.6 878.7 L1291.1 881.1 L1289.3 883.2 L1287.9 886.4 L1286.6 890.5 L1285.3 894.1 L1283.9 896.7 L1282.0 898.2 L1280.1 899.8 L1277.7 901.5 L1274.6 903.6 L1272.1 905.4 L1269.5 906.0 L1267.4 907.0 L1265.5 908.6 L1263.1 910.1 L1260.2 912.2 L1257.4 914.4 L1255.1 915.7 L1252.5 917.0 L1250.0 918.9 L1247.6 920.7 L1244.7 922.2 L1242.0 924.6 L1239.9 926.7 L1237.8 928.2 L1235.2 929.8 L1232.3 931.1 L1229.8 932.4 L1227.2 934.2 L1224.4 936.1 L1222.0 938.0 L1218.9 939.3 L1215.8 940.5 L1213.4 942.4 L1210.9 944.6 L1208.3 946.5 L1205.2 948.4 L1202.5 949.4 L1200.6 949.8 L1197.9 950.3 L1195.3 950.9 L1192.7 951.8 L1189.4 953.3 L1187.0 954.7 L1184.7 956.3 L1182.0 958.4 L1179.7 959.8 L1177.0 961.2 L1174.5 962.6 L1171.7 964.1 L1168.4 966.3 L1165.6 968.2 L1162.5 970.2 L1159.7 971.7 L1157.1 972.2 L1153.6 972.7 L1150.4 973.6 L1148.2 975.1 L1147.2 977.3 L1146.6 979.8 L1146.0 982.2 L1144.7 984.3 L1143.1 987.0 L1141.6 989.9 L1139.7 992.6 L1137.7 995.0 L1136.0 997.7 L1134.0 1000.2 L1131.5 1002.5 L1128.9 1004.2 L1125.8 1005.3 L1122.9 1006.8 L1121.0 1007.8 L1118.7 1009.6 L1116.7 1011.2 L1114.7 1012.1 L1112.9 1014.6 L1112.2 1017.5 L1110.9 1019.9 L1109.5 1022.8 L1108.4 1025.4 L1107.4 1028.1 L1106.8 1031.8 L1106.3 1035.0 L1105.8 1037.5 L1104.2 1040.2 L1102.2 1042.8 L1100.9 1045.7 L1099.3 1049.5 L1097.4 1052.8 L1095.7 1055.4 L1093.4 1057.6 L1091.2 1059.2 L1090.0 1061.5 L1088.5 1064.4 L1086.8 1067.2 L1085.3 1069.8 L1083.5 1071.4 L1081.7 1072.5 L1079.4 1073.8 L1076.7 1075.1 L1074.0 1076.8 L1071.3 1078.4 L1068.8 1080.4 L1066.1 1082.3 L1063.6 1083.8 L1060.8 1085.5 L1058.1 1086.5 L1055.9 1087.0 L1052.7 1088.2 L1049.6 1089.2 L1046.4 1090.4 L1043.1 1092.2 L1041.0 1093.9 L1039.4 1095.1 L1037.7 1096.2 L1035.6 1097.1 L1032.3 1097.9 L1028.6 1098.5 L1024.6 1099.4 L1020.9 1100.6 L1017.9 1101.4 L1015.3 1102.0 L1013.5 1102.9 L1011.1 1103.7 L1008.7 1104.6 L1006.2 1105.8 L1003.3 1107.3 L1000.4 1108.3 L997.3 1109.0 L994.2 1110.0 L990.5 1110.2 L987.6 1110.3 L985.0 1111.3 L982.0 1112.5 L979.3 1114.1 L975.9 1115.7 L972.7 1117.1 L970.1 1118.5 L967.6 1120.2 L965.7 1121.7 L963.4 1123.0 L960.3 1124.0 L958.7 1125.0 L959.1 1127.2 L960.4 1129.5 L962.8 1131.6 L964.8 1134.0 L966.2 1136.1 L967.0 1138.9 L967.1 1142.7 L967.8 1146.0 L968.6 1148.9 L969.3 1151.9 L969.6 1154.8 L969.4 1156.9 L969.7 1159.5 L970.2 1162.6 L971.2 1165.3 L972.8 1168.5 L974.6 1170.9 L976.5 1172.1 L978.7 1173.6 L981.8 1175.2 L985.2 1176.5 L988.3 1178.4 L990.6 1180.5 L992.0 1182.3 L993.6 1184.6 L995.5 1186.2 L997.8 1187.1 L1000.6 1188.4 L1002.5 1189.1 L1002.0 1190.3 L999.7 1191.6 L996.8 1192.8 L994.2 1194.7 L992.2 1196.7 L990.9 1199.2 L989.9 1202.2 L989.4 1205.4 L990.4 1207.8 L991.8 1210.2 L992.9 1212.5 L994.4 1214.3 L995.9 1216.6 L998.0 1218.5 L1000.3 1219.7 L1002.4 1221.1 L1004.9 1222.1 L1007.9 1223.1 L1011.3 1223.9 L1014.5 1223.8 L1017.9 1223.6 L1020.8 1223.3 L1023.5 1223.5 L1026.5 1224.8 L1028.8 1226.5 L1031.5 1228.4 L1034.2 1229.7 L1036.4 1230.7 L1038.2 1231.7 L1037.1 1233.3 L1034.5 1235.5 L1032.4 1237.4 L1029.8 1239.7 L1026.9 1242.5 L1024.9 1245.0 L1022.8 1247.8 L1020.5 1251.0 L1019.8 1253.5 L1020.9 1256.0 L1022.9 1258.3 L1025.9 1260.1 L1028.4 1261.6 L1030.4 1263.1 L1033.2 1264.7 L1035.6 1266.0 L1037.8 1267.5 L1040.6 1269.0 L1042.9 1270.9 L1044.4 1273.0 L1046.3 1275.4 L1048.1 1277.9 L1049.5 1280.2 L1050.7 1283.2 L1051.7 1285.9 L1052.7 1288.7 L1053.5 1292.2 L1054.2 1295.3 L1054.9 1298.7 L1055.5 1301.6 L1056.4 1304.2 L1057.8 1307.6 L1058.1 1310.3 L1056.2 1311.9 L1053.2 1311.9 L1050.1 1311.1 L1047.5 1310.7 L1045.3 1310.2 L1042.8 1309.9 L1039.6 1309.9 L1035.9 1309.3 L1032.0 1308.7 L1028.7 1308.9 L1026.2 1309.6 L1024.1 1310.4 L1021.5 1310.9 L1018.4 1310.5 L1015.5 1309.8 L1012.5 1309.2 L1009.4 1309.6 L1007.0 1309.8 L1004.1 1309.9 L1000.9 1309.7 L998.3 1308.7 L995.0 1308.3 L991.1 1308.6 L987.5 1309.2 L983.9 1310.2 L980.9 1310.9 L978.0 1311.6 L974.9 1311.9 L971.9 1311.9 L968.8 1311.9 L965.8 1311.7 L963.2 1311.6 L960.9 1311.8 L958.3 1312.0 L955.2 1312.0 L952.3 1311.4 L948.8 1310.9 L945.2 1310.8 L942.9 1310.8 L940.1 1311.4 L937.5 1311.9 L935.2 1312.0 L931.9 1312.2 L928.5 1311.9 L924.8 1311.1 L921.5 1310.3 L919.2 1309.6 L916.7 1309.3 L914.0 1309.5 L910.9 1309.4 L907.8 1308.9 L904.9 1308.8 L902.2 1309.0 L899.3 1309.3 L895.5 1309.7 L891.7 1309.6 L887.9 1309.5 L885.0 1309.3 L883.0 1308.9 L880.4 1308.4 L877.9 1308.1 L875.3 1308.8 L872.1 1309.2 L869.2 1309.3 L866.5 1309.1 L863.3 1309.1 L860.3 1309.5 L857.4 1310.5 L854.4 1311.0 L851.5 1310.9 L848.5 1311.2 L845.5 1310.9 L842.7 1310.4 L839.8 1309.9 L836.8 1309.1 L833.6 1309.2 L830.4 1310.3 L827.0 1310.7 L823.5 1310.6 L820.7 1310.4 L817.6 1309.7 L814.2 1309.9 L811.4 1310.6 L807.9 1311.0 L804.5 1311.4 L801.5 1311.7 L798.4 1311.1 L795.7 1310.3 L792.9 1309.4 L789.8 1308.7 L786.7 1309.1 L783.4 1309.9 L780.7 1310.2 L778.3 1310.2 L775.6 1309.7 L773.1 1309.0 L770.2 1308.8 L766.9 1308.6 L763.5 1308.8 L760.1 1309.7 L757.0 1310.4 L754.1 1310.7 L750.9 1310.9 L747.5 1310.2 L744.5 1309.6 L741.6 1309.5 L739.0 1309.5 L736.5 1309.8 L733.3 1309.9 L730.0 1309.9 L726.9 1309.5 L723.4 1309.4 L720.7 1310.2 L718.9 1310.6 L716.7 1310.9 L714.3 1310.9 L711.5 1310.9 L708.1 1310.8 L704.9 1311.0 L701.6 1310.8 L697.8 1309.9 L693.9 1309.4 L690.1 1308.8 L686.6 1309.0 L683.6 1309.4 L681.2 1309.4 L679.2 1309.5 L676.6 1308.8 L674.1 1308.2 L671.4 1308.1 L668.0 1308.0 L665.5 1308.2 L662.8 1309.1 L659.6 1310.3 L656.2 1311.2 L652.4 1312.1 L649.3 1312.2 L646.6 1311.0 L644.1 1310.3 L641.3 1309.5 L638.2 1308.8 L635.4 1309.0 L632.1 1309.3 L629.0 1309.5 L626.2 1310.3 L622.9 1311.3 L619.6 1311.6 L616.7 1311.5 L613.5 1311.0 L610.3 1310.1 L607.8 1309.6 L604.9 1309.4 L601.8 1309.6 L598.6 1309.9 L595.6 1309.4 L593.4 1309.2 L591.5 1308.6 L591.2 1306.4 L591.5 1303.5 L590.5 1300.8 L590.5 1297.8 L590.8 1294.7 L591.1 1292.4 L592.3 1289.5 L593.4 1286.4 L593.7 1283.6 L593.0 1280.6 L591.0 1278.4 L588.4 1276.8 L586.4 1274.6 L584.4 1272.6 L581.3 1270.6 L577.8 1268.2 L574.6 1265.9 L572.1 1263.4 L570.5 1261.4 L569.0 1259.5 L566.8 1257.5 L563.8 1256.2 L561.0 1254.2 L558.1 1252.3 L555.7 1250.4 L554.0 1247.8 L551.6 1245.5 L549.4 1243.6 L547.5 1242.2 L545.6 1241.0 L544.1 1239.8 L542.3 1238.3 L539.7 1236.2 L536.8 1233.4 L534.1 1230.9 L531.1 1228.7 L528.4 1226.9 L526.0 1225.2 L523.7 1223.3 L521.6 1221.7 L519.3 1220.0 L516.5 1218.6 L513.8 1217.2 L511.8 1214.7 L510.2 1211.9 L508.9 1209.5 L507.0 1207.3 L504.3 1205.4 L501.9 1203.9 L499.4 1201.6 L496.7 1199.1 L494.4 1197.4 L491.9 1196.1 L489.3 1195.1 L487.3 1193.5 L485.7 1191.0 L483.7 1188.3 L481.4 1185.8 L479.6 1184.1 L477.7 1182.2 L475.8 1180.0 L474.3 1177.1 L472.8 1173.7 L471.0 1171.0 L469.6 1168.8 L468.8 1166.8 L467.6 1164.9 L466.3 1162.1 L465.1 1158.7 L464.2 1155.5 L463.2 1152.1 L462.8 1149.3 L462.1 1146.7 L459.9 1143.5 L458.4 1140.5 L456.9 1138.0 L456.2 1136.2 L458.0 1135.2 L460.5 1134.7 L462.6 1133.6 L464.0 1131.7 L464.5 1129.2 L464.7 1126.0 L464.8 1122.7 L465.4 1119.6 L465.1 1116.7 L464.0 1114.3 L463.5 1111.7 L463.0 1108.8 L462.6 1105.7 L461.9 1102.3 L461.2 1099.3 L460.9 1096.6 L460.8 1094.2 L461.7 1091.8 L462.6 1089.4 L463.0 1087.6 L463.8 1085.5 L464.8 1083.3 L466.0 1080.5 L467.9 1077.1 L470.4 1074.5 L472.9 1072.9 L475.3 1072.3 L477.6 1071.5 L480.3 1070.0 L483.5 1068.0 L485.9 1065.1 L486.5 1062.2 L486.3 1059.1 L486.2 1055.9 L486.2 1052.9 L486.5 1050.0 L486.6 1047.7 L486.6 1045.4 L487.2 1042.8 L487.5 1040.3 L487.6 1037.0 L487.7 1033.6 L487.0 1030.7 L486.2 1027.6 L485.2 1024.5 L483.7 1021.7 L483.0 1019.3 L483.5 1017.3 L484.7 1015.5 L486.6 1013.6 L488.2 1011.1 L489.3 1007.9 L490.5 1004.8 L491.3 1002.4 L491.5 999.9 L491.9 997.1 L492.1 994.2 L492.2 991.2 L492.6 988.2 L491.9 985.3 L490.9 982.4 L489.5 979.2 L488.4 976.6 L487.2 975.1 L485.7 973.6 L485.6 971.7 L487.1 968.9 L489.2 966.2 L491.2 963.8 L492.9 961.6 L494.0 960.3 L495.8 958.4 L497.9 956.0 L499.9 954.2 L501.1 952.7 L498.8 951.8 L495.0 952.1 L491.8 951.6 L489.2 950.2 L487.0 949.6 L484.4 948.3 L481.0 946.9 L477.9 945.9 L475.4 944.2 L473.5 943.0 L472.4 941.6 L470.6 940.0 L468.9 938.3 L468.4 935.5 L468.5 931.9 L468.9 928.7 L469.5 926.0 L470.0 923.2 L469.0 921.0 L467.3 918.9 L466.0 916.0 L464.5 913.1 L462.9 911.2 L460.8 908.9 L458.5 906.2 L455.8 904.0 L452.7 901.7 L450.2 899.8 L448.1 898.5 L445.8 897.2 L443.4 896.0 L440.6 894.6 L437.0 894.0 L433.6 895.0 L430.2 896.1 L427.1 897.0 L424.5 898.3 L422.6 899.3 L420.6 899.6 L418.0 900.3 L415.0 900.8 L411.6 900.1 L408.3 899.6 L405.8 899.0 L403.0 898.0 L399.7 897.4 L397.0 897.5 L394.1 897.6 L391.4 897.6 L389.1 897.2 L386.3 896.4 L383.1 895.9 L379.3 895.4 L375.6 895.8 L372.1 896.3 L369.2 896.5 L366.6 897.1 L363.7 898.0 L361.1 899.2 L358.3 900.2 L355.3 901.3 L352.2 902.4 L348.8 903.1 L345.4 903.7 L342.8 904.3 L340.6 905.1 L338.5 905.7 L335.6 906.0 L332.0 906.0 L328.9 906.3 L325.4 906.6 L322.4 907.4 L319.6 908.4 L316.2 908.6 L313.5 907.6 L310.6 905.9 L307.5 904.0 L304.5 902.2 L301.2 901.0 L298.3 900.2 L295.7 899.6 L292.9 899.5 L290.1 899.3 L287.5 898.5 L285.2 897.5 L282.9 895.9 L280.1 893.6 L277.7 891.1 L275.3 888.8 L272.9 886.5 L270.9 884.4 L268.9 882.8 L266.8 881.0 L265.1 879.2 L263.4 877.4 L261.3 874.5 L259.8 871.7 L258.2 869.3 L256.5 866.6 L254.9 863.7 L253.0 861.3 L251.0 859.0 L248.6 856.4 L246.4 854.3 L244.3 852.0 L242.0 849.3 L240.2 847.6 L238.3 845.9 L237.1 843.0 L236.6 839.6 L236.5 835.7 L236.3 832.3 L234.8 830.1 L232.6 828.4 L230.3 827.6 L227.8 826.7 L225.0 825.9 L222.8 825.0 L221.2 822.4 L219.9 819.1 L219.3 815.3 L218.0 811.7 L216.3 809.0 L215.2 806.3 L214.1 803.7 L213.3 801.3 L212.6 798.6 L210.3 796.2 L207.3 794.6 L204.2 793.6 L201.7 792.4 L199.5 791.5 L196.8 790.4 L193.2 789.4 L189.7 788.3 L186.6 787.8 L183.4 787.7 L180.6 787.2 L177.4 787.3 L174.4 786.8 L171.7 786.4 L169.0 786.2 L166.1 785.7 L162.9 785.7 L159.5 785.6 L156.7 785.5 L153.9 785.2 L150.9 784.9 Z" fill="#C3D5F6" stroke="none"/>
<g fill="none" stroke="#FFFFFF" stroke-width="10" stroke-linejoin="round" stroke-linecap="round">
<path d="M686.7 290.6 L684.8 292.8 L681.4 293.5 L679.2 293.7 L676.3 294.0 L672.3 295.1 L669.6 295.4 L667.7 295.7 L665.0 297.0 L662.4 298.8 L659.8 301.0 L656.5 302.7 L652.3 303.8 L649.0 305.2 L647.6 308.3 L646.3 310.7 L644.3 312.3 L643.3 314.9 L642.9 316.5 L641.3 318.1 L639.2 321.3 L636.8 324.3 L634.4 326.5 L632.0 328.4 L629.6 330.7 L627.6 333.4 L626.7 335.3 L624.7 336.1 L621.1 337.3 L618.3 340.4 L616.3 343.1 L615.5 343.6 L615.5 345.2 L615.4 349.4 L615.4 354.0 L615.3 356.5 L616.1 357.1 L618.7 356.9 L622.6 356.6 L626.1 357.1 L628.6 358.3 L630.7 359.8 L631.8 362.3 L632.9 365.3 L635.1 368.1 L637.5 371.3 L638.6 373.9 L639.9 375.8 L642.0 377.9 L643.6 380.5 L646.0 383.7 L649.0 385.6 L650.8 386.6 L652.6 389.2 L656.3 391.4 L659.9 391.9 L662.3 392.5 L664.6 394.5 L666.9 397.9 L669.4 400.4 L672.4 400.6 L675.5 400.1 L679.1 401.5 L682.4 404.5 L684.6 407.1 L687.2 407.4 L690.0 406.3 L691.8 407.0 L693.5 408.7 L696.6 409.0 L700.7 409.2 L703.9 410.1 L705.6 411.2 L708.3 412.6 L712.5 413.8 L714.8 416.1 L716.0 418.5 L718.7 419.8 L721.1 421.8 L722.9 424.3 L724.5 425.5 L725.2 424.8 L727.6 423.6 L731.2 423.3 L733.0 425.1 L734.8 427.8 L737.6 428.7 L740.9 428.9 L743.8 430.1 L746.3 431.9 L748.9 433.9 L751.1 436.4 L752.3 439.6 L751.8 442.4 L750.5 444.0 L749.9 446.4 L749.4 450.0 L749.5 452.9 L751.7 455.3 L754.4 456.8 L756.9 458.0 L759.8 459.6 L762.7 461.3 L764.4 462.2"/>
<path d="M764.4 462.2 L767.1 461.9 L769.1 462.1 L772.6 462.6 L775.9 462.5 L779.2 461.8 L783.0 460.9 L785.7 460.7 L788.4 460.0 L792.5 459.4 L796.3 459.2 L798.3 458.7 L800.1 458.2 L802.8 456.7 L805.4 454.8 L809.0 454.3 L812.3 454.4 L813.8 454.4 L816.6 453.6 L820.3 451.8 L822.9 450.5 L824.4 449.0 L825.7 446.2 L828.5 443.4 L832.0 441.7 L834.2 441.1 L835.5 439.6 L838.0 436.7 L841.2 435.4 L844.4 435.3 L848.6 433.7 L852.0 433.4 L854.5 434.5 L857.5 433.8 L860.1 433.6 L863.9 433.1"/>
<path d="M764.4 462.2 L761.1 465.3 L760.0 466.1 L757.7 467.5 L755.7 469.6 L753.5 470.8 L750.7 471.5 L748.3 473.3 L745.6 474.6 L742.4 475.8 L739.1 478.5 L736.1 480.5 L733.0 481.4 L730.4 483.5 L728.0 485.2 L726.4 485.4 L725.5 486.1 L723.2 487.8 L719.6 490.2 L716.5 492.9 L714.0 494.4 L712.1 495.9 L710.3 498.6 L709.2 500.2 L708.6 502.2 L707.7 506.0 L707.3 508.8 L708.0 509.9 L708.5 511.9 L709.2 515.4 L710.6 518.2 L711.5 520.7 L712.2 523.6 L713.3 527.0 L715.0 531.0 L716.6 533.7 L717.8 535.6 L719.1 537.6 L720.6 539.4 L721.3 542.4 L722.3 546.0 L724.5 548.4 L727.3 549.7 L729.9 551.7 L732.2 554.2 L734.8 555.3 L737.9 556.4 L740.5 558.9 L742.0 561.5 L743.4 563.7 L745.0 566.0 L746.3 569.1 L748.3 571.2 L751.1 572.8 L753.6 575.3 L754.8 577.7 L754.8 580.3 L754.6 583.2 L754.4 585.6 L753.1 588.4 L750.4 590.9 L749.1 593.0 L748.4 596.4 L745.9 599.6 L742.5 601.8 L740.7 603.4 L739.4 604.9 L736.7 606.6 L733.6 608.1 L730.9 609.0 L729.5 611.2 L728.3 614.5 L726.3 616.6 L724.2 618.4 L722.6 621.0 L720.6 623.7 L717.3 625.0 L713.2 626.6 L710.2 628.9 L708.9 629.4 L707.3 629.7 L704.2 632.1 L700.7 634.8 L698.0 636.4 L695.1 636.6 L692.2 636.5 L688.5 638.0 L685.8 639.6 L684.3 641.0 L682.2 642.2 L682.4 644.3 L685.8 646.8 L688.5 648.8 L689.3 651.6 L691.2 654.5 L694.4 656.5 L696.8 657.5 L698.6 658.5 L700.1 661.3 L702.8 664.1 L706.1 666.0 L708.6 667.1 L710.2 668.4 L711.6 671.1 L714.1 673.2 L716.8 674.5 L719.6 677.0 L722.1 678.9 L723.6 679.6 L724.5 681.1 L725.6 684.5 L727.7 687.2 L730.4 688.4 L733.0 691.1 L735.2 693.8 L737.0 694.4 L738.2 695.1 L740.0 696.9 L742.4 698.4 L744.3 700.4 L747.4 702.7 L751.0 703.9 L753.2 704.8 L756.9 706.1 L761.1 707.0 L764.1 708.5 L766.1 709.7 L767.7 709.7 L770.3 710.0 L773.7 710.5 L776.4 710.6 L778.0 710.9 L779.9 711.3 L783.7 712.0 L788.2 712.3 L791.6 711.7 L795.3 711.9 L799.4 712.4 L802.6 711.9 L804.6 711.2 L806.6 711.3 L809.4 711.6 L812.6 711.4 L816.4 712.2 L819.6 713.8 L821.5 714.0 L823.9 713.1 L826.8 712.0 L830.5 711.1 L834.6 710.9 L837.3 710.2 L839.5 708.5 L842.2 708.4 L844.9 708.9 L848.0 708.6 L850.3 708.0 L852.9 707.5 L856.6 707.5 L859.4 707.4 L860.9 708.6 L862.7 709.8 L866.1 709.2 L869.1 707.7 L870.8 706.6 L873.0 706.5 L876.7 706.5 L881.4 705.6 L884.9 704.9 L886.8 705.5 L888.7 707.1 L891.3 708.4 L894.1 709.4 L896.0 710.6 L899.1 712.2 L903.8 714.2 L907.0 715.4 L908.5 716.6 L909.3 719.2 L910.3 721.6 L912.3 723.2 L914.3 725.7 L915.6 729.2 L916.0 732.4 L915.7 734.5 L916.8 736.9 L918.5 739.2 L920.0 741.0 L922.4 743.3 L924.4 745.3 L926.6 746.8 L929.1 748.7 L930.4 751.3 L931.8 752.7 L933.8 754.2 L936.2 756.3 L938.5 757.7 L939.9 760.3 L942.3 763.5 L944.9 765.3 L947.0 767.3 L949.6 770.4 L951.5 772.0 L952.8 772.8 L953.9 775.0 L955.3 778.8 L958.2 783.0 L960.9 786.0 L962.6 787.9 L964.6 790.1 L966.9 792.6 L970.2 793.7 L973.5 793.8 L975.9 795.6 L977.9 798.6 L980.0 799.6 L982.8 800.2 L986.1 801.4 L989.5 800.8 L992.4 801.1 L995.1 803.3 L997.9 803.5 L1001.6 802.3 L1004.7 802.7 L1005.6 804.1 L1006.6 806.6 L1008.0 810.1 L1009.9 812.8 L1012.2 815.6 L1013.8 818.3 L1016.3 820.7 L1018.7 824.7 L1020.2 828.1 L1021.2 830.0 L1022.6 831.4 L1025.2 832.7 L1026.8 834.4 L1027.6 836.6 L1029.3 838.4 L1031.3 840.1 L1031.4 842.0 L1029.1 844.5 L1026.9 847.6 L1024.7 849.9 L1023.1 852.0 L1022.2 854.7 L1021.3 856.2 L1022.2 858.4 L1023.8 862.2 L1024.7 865.6 L1026.7 868.2 L1027.0 870.3 L1025.1 873.1 L1024.0 876.7 L1023.3 879.7 L1023.9 880.1 L1027.3 878.8 L1031.1 877.8 L1034.5 876.6 L1037.6 875.0 L1040.8 874.1 L1044.9 874.8 L1048.2 875.0 L1051.2 874.0 L1054.7 874.2 L1058.0 875.9 L1060.8 876.9 L1062.7 876.5 L1065.0 875.4 L1068.3 875.0 L1071.1 874.6 L1073.9 873.6 L1077.7 872.8 L1081.4 873.0 L1083.6 873.1 L1086.6 872.6 L1091.1 872.0 L1094.1 871.4 L1095.9 872.0 L1098.1 874.0 L1100.1 875.8 L1102.4 877.6 L1105.5 879.6 L1106.9 882.3 L1108.1 885.3 L1111.1 886.3 L1114.4 885.5 L1117.0 886.7 L1120.2 888.9 L1124.0 889.9 L1126.9 891.0 L1129.1 892.3 L1131.1 893.6 L1134.4 893.5 L1138.4 892.3 L1140.7 892.7 L1143.0 894.2 L1146.4 894.4 L1149.3 893.5 L1152.6 894.0 L1156.8 894.7 L1160.1 895.5 L1162.6 897.8 L1166.3 899.0 L1169.6 898.9 L1171.0 900.4 L1173.1 902.3 L1176.6 903.4 L1179.0 904.6 L1181.5 907.0 L1184.1 910.1 L1186.3 912.4 L1189.7 913.4 L1192.6 914.4 L1194.1 916.4 L1194.5 918.4 L1192.9 920.1 L1190.9 922.5 L1190.2 924.8 L1189.3 927.2 L1186.5 930.6 L1185.1 932.9 L1185.3 934.2 L1183.9 936.6 L1181.6 939.6 L1180.2 941.9 L1179.5 943.8 L1178.5 947.1 L1175.7 950.7 L1173.0 952.9 L1174.1 955.2 L1176.2 956.2"/>
<path d="M344.0 566.0 L345.8 565.5 L348.5 563.5 L351.4 563.6 L353.9 564.8 L356.1 564.7 L359.4 564.0 L363.1 564.4 L365.8 564.3 L368.8 563.0 L371.4 562.6 L373.2 562.0 L375.3 560.0 L378.9 558.1 L383.6 556.8 L386.8 556.1 L388.4 554.6 L390.7 552.3 L393.0 550.4 L395.8 549.0 L399.3 548.7 L401.5 549.2 L404.2 548.9 L408.4 546.8 L411.7 544.2 L414.1 542.0 L417.1 540.8 L419.8 541.6 L422.3 543.5 L424.6 544.8 L426.1 546.1 L427.2 548.0 L428.5 551.4 L429.8 554.4 L431.3 555.0 L433.8 555.8 L436.8 557.0 L440.2 557.2 L443.4 557.2 L446.2 556.3 L448.7 555.7 L451.2 555.8 L453.3 555.4 L456.4 555.0 L460.6 555.6 L463.0 555.5 L464.8 553.6 L467.3 552.2 L471.1 551.8 L475.1 552.0 L478.2 552.1 L481.8 551.4 L485.0 551.0 L487.7 551.5 L490.8 551.8 L492.9 551.2 L495.7 549.9 L499.7 549.0 L503.1 548.6 L505.3 549.0 L507.0 549.0 L509.4 547.2 L512.0 546.1 L514.5 546.3 L517.5 545.9 L521.1 545.9 L524.1 545.9 L526.8 544.4 L529.8 542.9 L533.1 542.2 L537.0 541.8 L540.4 542.1 L542.8 543.3 L545.3 543.6 L547.9 542.3 L549.9 541.1 L553.5 541.2 L557.3 541.6 L560.0 541.0 L563.0 540.3 L565.3 540.6 L568.6 540.6 L573.2 538.8 L576.7 536.5 L578.5 535.7 L580.2 535.2 L583.3 534.8 L586.5 535.5 L589.2 535.9 L591.6 535.8 L594.7 534.2 L599.0 531.9 L603.4 532.0 L606.7 533.5 L608.7 533.1 L610.2 532.1 L612.0 531.3 L615.3 530.2 L619.9 530.6 L623.1 531.2 L625.2 530.6 L627.2 529.5 L629.8 528.3 L633.3 528.0 L637.2 527.3 L640.4 525.5 L642.9 524.2 L646.0 524.4 L648.2 524.2 L650.0 523.0 L653.7 522.2 L657.4 522.4 L659.8 522.4 L663.1 521.4 L667.0 521.6 L669.7 521.5 L672.5 520.2 L675.9 519.4 L678.7 518.9 L680.8 519.1 L683.5 519.6 L686.5 519.6 L689.9 518.9 L693.1 518.5 L694.9 519.4 L697.1 520.4 L700.7 519.8 L704.5 518.7 L707.7 519.0 L710.6 518.8"/>
<path d="M969.1 793.3 L968.7 795.4 L966.6 797.0 L963.3 798.3 L960.5 800.1 L959.2 802.1 L957.9 804.9 L955.7 808.2 L951.8 809.6 L948.3 808.7 L946.7 807.6 L944.5 807.6 L941.3 808.4 L937.7 809.3 L933.6 809.8 L929.7 811.0 L926.6 812.2 L924.3 812.6 L921.8 812.8 L917.9 812.8 L914.6 814.2 L912.7 815.8 L911.0 815.7 L909.1 815.9 L906.2 817.1 L902.6 817.9 L899.0 818.7 L896.0 819.2 L893.3 819.4 L890.7 819.6 L888.5 820.0 L885.3 820.7 L881.5 820.9 L877.8 821.3 L874.9 821.8 L872.7 821.9 L870.0 822.6 L867.0 823.1 L864.9 822.7 L861.9 823.7 L858.8 824.8 L856.3 824.4 L852.4 823.6 L848.2 823.5 L845.6 824.4 L844.3 826.2 L842.2 826.8 L839.2 825.6 L836.1 825.9 L832.6 827.7 L828.2 827.6 L824.1 826.8 L821.5 827.2 L818.8 828.5 L816.6 831.0 L815.7 834.3 L814.4 837.3 L812.9 840.7 L811.8 843.7 L810.1 844.6 L806.8 844.5 L803.8 845.3 L801.4 847.5 L797.8 849.3 L794.9 849.5 L792.8 849.4 L790.2 850.0 L786.8 850.9 L782.9 851.3 L779.8 851.6 L777.3 852.5 L774.9 854.0 L772.2 855.0 L769.0 855.7 L765.4 856.3 L762.7 857.4 L761.0 859.3 L758.0 860.5 L754.5 861.5 L752.0 863.7 L749.8 866.0 L749.5 867.6 L749.3 869.9 L747.0 873.5 L744.5 875.9 L744.0 878.3 L743.7 881.6 L741.9 884.2 L739.3 886.6 L737.7 889.2 L737.3 892.0 L737.6 895.1 L736.7 897.8 L734.4 900.9 L734.1 903.4 L735.4 904.9 L735.0 907.6 L733.9 911.0 L733.6 913.9 L733.1 916.8 L732.5 919.8 L732.6 923.0 L731.9 927.0 L731.8 930.6 L732.4 932.6 L731.9 935.3 L731.6 939.0 L731.2 942.6 L730.0 945.5 L729.5 948.6 L730.3 952.4 L731.1 955.7 L730.1 958.1 L729.4 960.6 L729.8 963.5 L729.8 967.1 L729.4 970.0 L728.5 971.6 L727.3 973.7 L727.0 977.0 L728.2 980.7 L728.7 984.7 L727.2 988.3 L727.3 990.3 L729.7 992.8 L730.9 996.7 L730.8 999.9 L730.9 1001.4 L730.7 1003.7 L731.3 1007.8 L731.9 1010.5 L731.3 1012.6 L730.1 1015.5 L728.1 1016.7 L724.9 1018.1 L721.5 1020.7 L719.6 1022.2"/>
<path d="M493.1 1026.3 L495.6 1025.7 L497.3 1026.4 L500.4 1027.8 L504.4 1028.1 L506.9 1027.9 L508.4 1028.5 L510.6 1030.1 L513.1 1031.2 L516.1 1031.4 L520.2 1031.0 L523.6 1031.8 L525.6 1033.5 L529.1 1034.2 L532.5 1034.3 L533.7 1033.2 L536.0 1031.2 L540.1 1029.8 L543.0 1029.5 L544.8 1030.0 L547.8 1029.2 L551.0 1027.4 L554.0 1026.5 L557.7 1026.9 L560.7 1026.0 L562.6 1024.3 L564.7 1023.1 L566.8 1021.7 L570.0 1020.9 L573.2 1020.6 L575.1 1019.9 L577.6 1018.4 L580.6 1017.2 L583.1 1016.6 L585.5 1015.7 L587.9 1014.2 L590.8 1013.0 L593.8 1012.4 L596.4 1011.4 L599.5 1010.8 L603.1 1011.5 L605.8 1011.6 L608.0 1009.8 L611.4 1008.0 L614.6 1007.5 L617.2 1006.5 L620.8 1005.2 L623.4 1005.0 L626.6 1006.4 L631.4 1006.6 L634.4 1005.6 L637.1 1006.6 L640.5 1007.7 L643.0 1008.1 L645.7 1009.3 L649.4 1009.9 L653.0 1009.9 L655.4 1011.5 L657.9 1013.0 L661.6 1012.5 L664.6 1011.7 L667.0 1012.4 L669.6 1014.5 L671.8 1015.4 L674.6 1015.7 L677.9 1017.0 L681.5 1018.1 L685.1 1018.5 L687.7 1018.9 L690.1 1019.7 L692.6 1019.9 L695.0 1019.9 L697.3 1021.1 L699.8 1022.5 L703.9 1023.6 L707.3 1024.0 L709.0 1022.9 L710.8 1021.3 L714.1 1021.4 L717.8 1022.6 L719.6 1022.2"/>
<path d="M719.6 1022.2 L718.5 1025.9 L718.1 1029.1 L718.0 1031.6 L716.3 1033.6 L713.5 1035.6 L712.4 1037.4 L710.8 1039.4 L708.3 1042.2 L707.5 1046.0 L705.9 1049.2 L703.2 1051.3 L703.6 1053.7 L705.4 1057.4 L705.5 1061.4 L706.5 1064.3 L708.8 1065.9 L710.4 1067.2 L712.4 1068.9 L715.5 1071.6 L718.1 1075.4 L719.8 1079.7 L720.5 1083.0 L719.6 1085.2 L719.2 1086.9 L720.5 1089.5 L721.7 1092.3 L722.6 1092.6 L725.5 1092.0 L728.5 1091.6 L730.5 1092.1 L733.7 1093.5 L737.2 1093.9 L739.8 1093.9 L742.5 1094.1 L745.6 1093.5 L748.4 1093.5 L751.4 1094.6 L754.7 1094.3 L757.3 1093.8 L760.6 1094.7 L765.1 1095.2 L769.1 1096.1 L772.0 1097.5 L774.8 1097.7 L778.5 1096.9 L781.4 1096.2 L783.8 1095.6 L786.5 1096.3 L789.1 1097.8 L793.2 1097.7 L796.6 1096.9 L798.6 1097.2 L801.0 1097.8 L804.4 1098.9 L808.8 1099.5 L811.6 1098.6 L813.2 1097.9 L815.5 1096.5 L818.7 1095.3 L823.4 1095.9 L827.1 1096.1 L829.7 1095.5 L832.9 1094.7 L836.1 1094.0 L839.2 1094.8 L841.0 1097.6 L842.3 1099.8 L845.4 1100.8 L848.2 1102.1 L850.6 1103.7 L853.0 1104.0 L853.9 1104.9 L855.2 1108.2 L858.4 1110.7 L862.1 1111.6 L864.7 1113.0 L866.4 1114.9 L868.1 1117.3 L871.0 1119.3 L874.9 1119.8 L878.8 1120.9 L881.3 1121.4 L882.7 1120.8 L885.1 1121.1 L888.7 1121.3 L892.0 1119.8 L894.7 1116.6 L897.7 1114.1 L900.7 1112.3 L903.3 1110.6 L906.3 1109.6 L909.3 1110.7 L911.9 1112.1 L914.4 1111.8 L917.0 1111.4 L920.4 1111.3 L924.3 1110.8 L926.4 1109.3 L927.8 1106.8 L930.9 1106.1 L934.8 1106.6 L937.6 1107.5 L939.5 1109.9 L941.3 1112.1 L942.7 1113.6 L944.6 1115.8 L948.1 1118.2 L952.1 1119.3 L954.6 1119.8 L957.2 1121.6"/>
<path d="M719.6 1092.6 L716.7 1093.8 L714.6 1095.2 L711.3 1096.7"/>
<path d="M810.8 1102.3 L810.6 1106.5 L809.3 1108.3 L807.7 1109.8 L806.8 1111.7 L804.7 1114.1 L803.7 1117.0 L805.2 1119.2 L806.8 1121.2 L808.9 1124.3 L811.1 1127.3 L811.7 1129.9 L810.7 1132.8 L808.9 1135.7 L808.2 1137.8 L808.0 1139.7 L807.1 1141.6 L807.0 1144.4 L808.0 1148.4 L808.1 1151.8 L806.3 1154.5 L804.7 1156.5 L803.8 1158.1 L802.1 1160.5 L800.4 1162.6 L798.8 1164.5 L796.2 1166.3 L793.8 1167.9 L791.7 1170.2 L790.3 1172.6 L789.5 1174.5 L786.5 1176.0 L782.7 1176.9 L780.8 1178.2 L778.3 1179.6 L775.3 1181.7 L772.3 1183.3 L768.3 1183.8 L764.5 1184.4 L761.6 1185.2 L758.9 1185.4 L755.9 1185.4 L753.0 1186.0 L749.8 1186.3 L746.2 1186.5 L742.5 1186.8 L738.9 1187.0 L736.2 1187.8 L733.6 1188.3 L730.1 1187.9 L726.6 1188.4 L723.4 1189.2 L721.2 1187.5 L719.4 1185.1 L717.4 1183.5 L715.2 1182.5 L712.7 1183.0 L711.9 1184.8 L713.8 1185.7 L715.6 1186.5 L717.5 1188.8 L720.3 1191.2 L722.4 1192.0"/>
<path d="M345.3 570.4 L347.4 570.9 L349.9 573.2 L352.8 575.3 L355.5 576.9 L357.5 577.0 L359.7 578.2 L362.8 581.1 L366.0 582.9 L369.0 583.5 L372.7 583.8 L375.8 584.6 L377.5 585.9 L380.3 587.2 L383.6 589.7 L385.6 592.4 L387.0 594.6 L387.3 597.4 L387.8 600.4 L390.5 602.8 L394.0 603.8 L396.8 605.5 L399.6 607.7 L401.3 609.1 L402.3 611.2 L404.8 612.6 L407.9 613.6 L410.5 616.3 L413.9 618.1 L417.6 619.1 L420.5 620.9 L423.3 621.9 L425.4 623.4 L426.3 626.5 L427.1 629.2 L429.3 630.3 L431.8 632.3 L432.8 636.1 L434.2 639.3 L435.6 641.6 L436.3 643.8 L438.0 644.9 L439.9 646.0 L442.2 648.2 L445.4 651.4 L446.3 655.1 L444.4 658.3 L443.3 660.6 L442.9 662.4 L441.4 665.2 L441.2 668.0 L442.4 669.4 L443.4 671.2 L445.1 673.2 L447.5 674.3 L449.5 676.1 L449.3 678.3 L446.9 679.4 L443.7 680.7 L441.5 682.2 L439.7 682.7 L437.5 685.2 L436.3 688.8 L436.3 691.3 L435.6 693.8 L433.8 695.9 L433.6 698.4 L434.9 702.6 L435.1 706.2 L435.4 708.1 L434.9 710.7 L434.3 714.2 L434.9 717.3 L433.4 720.8 L430.0 723.2 L427.4 723.6 L425.4 724.5 L424.8 727.2 L426.2 730.9 L428.6 733.8 L430.5 735.8 L429.7 737.6 L427.6 738.3 L425.7 739.5 L422.5 740.5 L418.7 740.5 L415.7 740.9 L414.0 741.6 L412.6 741.2 L410.2 739.1 L407.8 736.4 L405.4 734.9 L402.4 734.9 L398.2 735.1 L393.6 734.7 L390.4 735.6 L388.8 737.4 L387.1 738.0 L384.4 738.9 L382.5 742.2 L382.7 746.6 L384.1 749.3 L385.5 751.3 L385.6 754.5 L385.0 758.1 L385.4 761.7 L387.0 764.6 L386.7 766.0 L385.1 767.3 L385.1 770.7 L385.2 775.1 L384.4 778.5 L384.1 781.4 L384.3 783.4 L384.4 785.1 L384.6 788.5 L384.4 791.9 L383.2 794.3 L381.0 797.6 L378.8 800.9 L377.6 803.0 L376.6 805.0 L376.6 807.5 L377.8 810.1 L377.6 813.8 L376.0 817.2 L374.9 819.2 L374.8 821.4 L374.2 825.0 L372.2 829.1 L369.2 832.4 L366.7 834.3 L364.9 836.3 L363.7 839.2 L363.7 841.4 L363.9 843.4 L362.8 846.1 L360.8 848.7 L359.3 851.0 L358.8 852.8 L357.2 854.7 L354.4 858.0 L353.2 862.4 L353.4 866.5 L351.4 868.8 L348.2 870.2 L347.5 872.4 L348.1 874.8 L346.8 876.9 L345.0 879.9 L344.6 884.1 L344.1 887.4 L343.0 889.6 L341.8 892.2 L340.7 894.8 L338.0 897.0"/>
<path d="M899.8 495.3 L902.8 494.7 L905.1 496.7 L906.4 498.5 L908.6 499.2 L911.9 500.3 L915.0 502.4 L917.7 504.7 L920.7 507.3 L924.0 508.6 L927.0 509.5 L928.6 511.4 L929.5 513.6 L931.6 516.1 L934.8 517.3 L938.4 517.2 L940.9 517.5 L943.1 518.9 L946.2 521.3 L948.6 523.6 L951.2 525.8 L953.7 528.5 L955.3 531.3 L957.8 533.4 L961.0 534.3 L963.1 536.1 L963.6 539.4 L964.0 541.9 L966.3 544.0 L970.4 545.6 L973.6 547.1 L974.4 549.2"/>
<path d="M1073.8 449.7 L1076.2 452.6 L1079.2 453.5 L1082.0 455.6 L1084.0 458.4 L1085.5 460.2 L1088.1 461.3 L1091.1 463.8 L1093.2 466.4 L1095.6 468.0 L1097.7 470.4 L1098.9 472.6 L1100.7 473.6 L1104.0 475.1 L1108.6 477.4 L1111.7 480.3 L1113.1 482.3 L1115.0 483.5 L1116.7 485.0 L1118.7 486.7 L1121.4 488.8 L1122.4 491.7 L1123.1 494.1 L1124.9 495.5 L1126.1 497.3 L1125.7 499.7 L1124.4 501.8 L1122.2 504.2 L1119.7 507.1 L1117.5 508.9 L1116.6 509.6 L1118.2 510.2 L1121.3 512.2 L1123.9 514.4 L1125.9 515.0 L1128.4 516.4 L1131.4 518.1 L1134.8 519.2 L1137.5 520.8 L1139.7 522.3 L1141.4 524.3 L1143.2 527.0 L1144.8 528.8 L1147.9 529.7 L1152.3 531.1 L1155.0 531.9 L1157.0 530.9 L1159.6 530.2 L1163.7 530.8 L1167.9 531.8 L1171.1 532.9 L1174.9 533.3 L1178.2 534.0 L1181.1 535.4 L1184.3 536.9 L1186.6 537.3 L1189.5 537.1 L1193.7 537.2 L1197.2 537.8 L1199.6 539.0 L1201.4 539.8 L1203.9 538.7 L1206.6 538.4 L1209.2 539.3 L1212.4 539.7 L1216.1 540.4 L1219.3 541.2 L1222.1 540.2 L1224.9 538.8 L1228.0 538.0 L1231.7 537.5 L1234.9 537.7 L1236.0 538.3 L1234.9 535.9"/>
<path d="M1171.3 262.4 L1174.9 264.0 L1176.9 266.3 L1179.1 268.2 L1180.0 270.7 L1180.5 272.8 L1181.7 274.3 L1182.1 276.7 L1181.6 280.0 L1182.8 283.4 L1185.0 287.3 L1186.4 291.5 L1187.0 294.5 L1187.9 296.1 L1189.0 297.6 L1189.7 299.2 L1190.8 300.5 L1192.8 302.9 L1195.9 305.8 L1198.2 306.6 L1199.7 307.3 L1202.6 309.2 L1204.8 310.5 L1206.1 312.2 L1208.5 314.3 L1212.2 314.7 L1216.3 314.8 L1219.4 316.3 L1222.0 318.1 L1225.3 319.3 L1228.4 319.8 L1231.4 320.1 L1234.3 322.0 L1236.5 324.2 L1237.4 326.0 L1237.7 328.5 L1240.0 331.0 L1242.6 332.5 L1243.4 334.1 L1244.8 337.3 L1246.4 341.5 L1246.4 344.7 L1245.9 347.1 L1246.9 349.3 L1249.3 352.3 L1249.7 355.7 L1247.5 358.3 L1245.0 361.6 L1243.0 365.0 L1242.4 367.8 L1241.4 370.0 L1238.1 371.5 L1234.8 372.4 L1232.3 372.3 L1230.6 373.7 L1231.0 376.9 L1233.5 379.3 L1236.6 382.1 L1238.4 386.0 L1239.3 389.4 L1241.0 391.6 L1242.9 393.1 L1245.1 394.9 L1246.8 397.7 L1247.2 401.5 L1248.4 404.2 L1250.7 406.2 L1250.9 408.7 L1250.8 410.6 L1250.8 412.3 L1249.3 414.3 L1248.4 417.7 L1247.6 421.9 L1246.6 425.1 L1246.3 427.8 L1245.9 430.3 L1246.1 433.2 L1246.9 435.9 L1245.9 437.8 L1245.1 440.3 L1246.2 443.5 L1248.2 446.2 L1249.7 448.6 L1250.4 451.4 L1252.0 453.9 L1252.8 456.5 L1251.4 460.0 L1251.4 462.7 L1252.1 465.4 L1251.6 469.5 L1251.5 473.2 L1252.1 475.0 L1252.1 476.2 L1251.8 479.1 L1251.1 483.2 L1251.3 487.4 L1252.5 490.9 L1252.6 493.4 L1251.3 495.9 L1249.9 498.8 L1249.1 500.9 L1249.0 502.3 L1247.6 504.6 L1244.5 507.7 L1242.3 510.8 L1241.1 513.0 L1238.5 515.7 L1236.2 518.6 L1235.4 520.4 L1235.3 523.0 L1235.0 527.0 L1234.1 531.5 L1233.3 534.2 L1233.3 535.2 L1234.6 537.4 L1237.3 540.9 L1239.3 544.9 L1240.3 548.3 L1241.4 549.7 L1242.5 549.9 L1243.6 552.3 L1244.8 556.8 L1246.9 559.7 L1249.6 561.1 L1251.3 562.1 L1253.7 562.7 L1257.5 563.2 L1260.2 563.9 L1262.8 564.3 L1266.8 565.5 L1269.5 566.5 L1271.7 566.4 L1275.3 566.1 L1278.5 567.5 L1281.5 569.1 L1284.1 570.0 L1286.4 572.3 L1289.3 574.8 L1292.1 575.9 L1292.8 576.3 L1290.6 577.9 L1288.0 579.4 L1285.0 579.7 L1281.4 580.4 L1279.2 582.7 L1277.3 586.3 L1274.7 589.6 L1272.7 592.3 L1272.1 595.3 L1271.0 598.5 L1269.4 600.9 L1270.4 601.6 L1272.3 601.5 L1274.2 603.2 L1277.8 605.9 L1281.4 606.7 L1283.5 605.6 L1285.9 604.7 L1289.9 603.9 L1294.0 602.6 L1297.5 601.6 L1300.2 600.5 L1301.9 599.9 L1303.9 599.4 L1307.5 598.3 L1310.9 596.2 L1313.6 594.4 L1316.3 594.5 L1318.9 596.2 L1320.6 598.3 L1321.3 599.8 L1321.9 602.7 L1323.6 605.9 L1325.0 607.5 L1324.3 610.4 L1324.0 614.4 L1325.1 617.3 L1325.9 620.0 L1326.8 622.6 L1328.9 623.9 L1331.6 625.8 L1334.8 628.1 L1338.9 629.9 L1342.0 631.3 L1343.6 632.5 L1345.6 634.1 L1347.7 634.8 L1349.1 635.7 L1351.0 638.2 L1352.7 640.3 L1353.7 641.9 L1354.9 644.0 L1357.4 647.3 L1360.5 650.0 L1363.6 650.5 L1366.6 650.2 L1369.4 651.0 L1371.7 652.5 L1373.8 654.5 L1376.0 656.3 L1377.8 656.8 L1380.0 657.2 L1383.4 659.3 L1386.8 661.5 L1389.0 662.9 L1391.1 664.7 L1393.6 666.7 L1395.8 669.4 L1396.9 672.5 L1397.8 675.0 L1400.3 677.6 L1404.2 681.0 L1406.6 683.9 L1406.7 685.7 L1408.2 687.2 L1411.4 689.7 L1413.2 692.3 L1413.1 695.1 L1414.6 698.6 L1418.2 701.3 L1420.6 703.9 L1421.8 705.8 L1423.5 707.0 L1425.0 708.9 L1426.6 711.6 L1429.0 713.8 L1430.7 715.5 L1432.0 717.4 L1433.0 719.8 L1432.3 723.5 L1431.4 725.9 L1429.1 726.5 L1425.9 729.3 L1424.4 732.6 L1424.2 734.9 L1425.4 737.7 L1427.0 740.3 L1427.4 742.7 L1429.0 745.6 L1432.7 747.4 L1435.1 748.3 L1435.6 750.6 L1435.8 754.2 L1437.1 756.8 L1439.4 758.9 L1442.2 760.7 L1445.0 762.3 L1447.0 764.7 L1449.0 767.6 L1450.1 770.2 L1451.1 773.4"/>
<path d="M1322.9 599.1 L1326.7 599.2 L1329.2 598.8 L1331.6 596.6 L1334.3 595.8 L1337.3 596.9 L1339.6 596.8 L1342.6 595.2 L1345.9 592.7 L1348.2 589.9 L1349.4 587.5 L1349.3 585.7 L1349.4 583.7 L1350.4 580.4 L1351.9 576.4 L1352.4 573.6 L1351.4 571.1 L1351.0 568.4 L1349.9 566.6 L1347.7 564.4 L1347.2 561.3 L1348.1 558.5 L1347.6 556.0 L1347.7 552.8 L1351.0 550.4 L1355.4 550.0 L1357.7 550.2 L1359.4 549.8 L1363.4 548.9 L1368.0 548.6 L1370.4 549.2 L1371.3 548.4 L1373.3 545.6 L1377.0 542.1 L1379.4 539.6 L1381.2 538.4 L1384.3 537.7 L1387.3 536.7 L1390.0 535.4 L1393.0 534.2 L1396.4 533.0 L1398.6 532.5 L1400.1 531.2 L1401.3 528.4 L1400.2 526.1 L1398.3 524.8 L1397.0 524.1 L1396.7 522.4 L1398.2 520.2 L1400.4 517.3 L1401.9 513.5 L1403.5 510.7 L1405.2 510.1 L1407.4 509.1 L1410.1 506.1 L1412.1 503.0 L1413.2 501.3 L1415.0 499.6 L1416.8 495.6 L1416.8 491.2 L1415.9 488.6 L1414.5 486.7 L1415.1 483.9 L1417.4 481.9 L1418.3 480.7 L1419.8 479.3 L1422.5 477.7 L1425.4 476.5 L1427.7 475.7 L1429.3 474.8 L1431.6 473.4 L1434.4 471.6 L1436.6 470.8 L1438.1 468.8 L1440.4 465.7 L1444.2 464.1 L1447.6 462.5 L1449.2 460.5 L1451.0 459.4 L1454.1 457.7 L1457.7 455.9 L1459.9 454.2 L1461.9 451.5 L1464.9 449.4 L1467.6 448.5 L1470.5 447.5 L1473.0 445.3 L1475.1 443.3 L1478.3 442.0 L1481.2 440.9 L1483.1 439.8 L1484.6 437.3 L1487.3 434.0 L1489.9 430.8 L1491.0 429.1 L1493.1 428.2 L1496.8 426.7 L1498.9 424.5 L1500.2 422.3 L1502.2 420.6 L1504.2 419.1 L1506.5 417.8 L1508.8 416.5 L1511.9 413.9 L1514.5 410.5 L1516.4 408.0 L1519.7 406.5 L1522.8 405.2 L1524.3 403.6 L1525.8 402.4 L1528.5 400.8 L1531.9 397.8 L1533.6 394.7 L1534.9 392.4 L1537.5 391.0 L1539.0 389.8 L1540.3 387.2 L1543.2 385.4 L1546.8 385.5 L1550.3 385.5 L1554.2 384.9 L1557.6 385.1 L1560.7 386.8 L1563.6 388.8 L1565.8 389.6 L1567.5 390.2 L1569.1 392.5 L1571.0 394.6 L1573.2 395.8 L1575.8 398.1 L1578.6 400.9 L1580.8 402.6 L1583.1 403.6 L1585.2 405.2 L1587.4 408.3 L1590.0 411.9 L1592.2 414.0 L1594.9 415.2 L1598.6 416.0 L1601.4 417.1 L1602.5 420.1 L1604.4 423.2 L1606.9 424.2 L1609.7 424.3 L1613.4 425.3 L1616.4 427.5 L1618.0 430.5 L1620.2 432.8 L1624.0 433.0 L1627.3 432.0 L1629.2 431.1 L1630.8 430.4 L1633.6 429.5 L1636.2 428.4 L1637.7 426.6 L1640.5 425.6 L1644.0 426.9 L1647.2 428.9 L1650.4 430.2 L1653.2 430.6 L1655.9 430.5 L1657.6 430.9 L1659.9 431.5 L1663.0 433.0 L1665.6 434.9 L1668.2 436.1 L1671.3 437.1 L1675.5 438.3 L1678.8 439.5 L1681.3 439.7 L1685.4 438.8 L1688.7 438.2 L1690.2 438.6 L1693.1 439.2 L1696.9 439.3 L1699.1 440.2 L1701.8 440.8 L1706.1 440.8 L1709.1 442.5 L1710.2 445.7 L1712.0 447.9 L1715.0 448.7 L1717.9 450.2 L1720.5 453.0 L1721.9 454.9 L1722.6 455.8 L1725.0 457.0 L1727.7 459.0 L1728.7 461.2 L1729.4 463.3 L1732.1 465.8 L1737.0 467.7 L1740.4 468.8 L1742.2 469.6 L1745.2 470.6 L1748.8 472.1 L1751.9 472.1 L1754.7 470.9 L1757.0 470.6 L1758.3 470.2 L1761.0 469.4 L1764.7 470.0 L1767.6 470.2 L1771.1 469.5 L1773.7 469.3 L1776.2 469.0 L1780.2 468.6 L1782.2 467.0 L1781.8 463.6 L1782.1 460.2 L1783.4 456.4 L1784.1 453.3 L1785.5 451.4 L1787.6 448.7 L1788.2 445.7 L1790.1 444.1 L1794.5 441.8 L1797.7 439.7 L1799.7 438.1 L1801.1 435.8 L1802.1 433.3 L1805.0 431.5 L1808.5 430.3 L1810.2 428.8 L1812.8 427.0 L1816.8 425.5 L1819.8 423.9 L1822.5 422.1 L1826.1 420.3 L1828.9 419.7 L1830.8 420.9 L1834.0 421.5 L1837.6 422.1 L1840.1 423.2 L1843.3 423.0 L1847.6 423.0 L1851.1 423.9 L1852.7 425.3 L1854.7 427.5 L1856.3 429.2 L1854.8 430.8 L1852.2 433.7 L1849.9 436.4 L1847.5 438.2 L1845.7 440.2 L1843.7 442.1 L1841.1 443.5 L1840.4 445.8 L1841.4 448.8 L1842.2 451.5 L1842.9 454.5 L1842.9 457.7 L1843.4 460.4 L1845.1 462.6 L1845.9 465.0 L1846.5 467.9 L1848.6 470.3 L1850.3 472.3 L1848.9 475.8 L1846.3 479.7 L1845.2 482.6 L1845.6 485.9 L1847.5 487.0 L1849.1 486.2 L1851.5 486.3 L1856.1 486.2 L1858.7 486.6 L1859.5 487.5 L1861.7 487.1 L1864.9 486.4 L1868.1 486.0 L1870.9 484.6 L1873.0 483.4 L1875.2 483.5 L1877.9 483.1 L1881.1 482.1 L1883.0 480.6 L1883.6 478.3 L1884.1 475.0 L1884.2 472.2 L1884.6 469.8 L1885.3 466.3 L1885.9 462.1 L1887.5 458.6 L1888.3 456.4 L1888.0 454.2 L1890.2 451.2 L1894.6 449.3 L1897.6 449.8 L1900.2 450.8 L1903.0 450.0 L1904.8 448.8 L1907.7 448.4 L1911.2 448.1 L1913.1 449.0 L1916.1 449.2 L1919.4 448.5 L1920.8 449.5 L1922.4 450.8 L1925.7 451.4 L1928.5 453.5 L1930.5 456.1 L1933.9 457.5 L1936.9 458.5 L1937.8 459.6 L1939.7 461.4 L1943.7 463.2 L1946.6 462.9 L1948.9 463.9 L1951.7 465.6 L1953.6 466.2 L1955.9 467.2 L1959.6 466.8 L1962.3 465.4 L1964.6 464.6 L1968.6 464.3 L1973.0 464.2 L1975.2 463.4 L1976.9 462.1 L1980.1 462.0 L1982.7 462.2 L1985.0 460.8 L1987.8 459.1 L1990.3 457.2 L1993.6 455.4 L1996.5 454.5 L1998.1 453.8 L2000.4 452.7 L2003.0 451.6 L2006.4 451.2 L2010.9 450.6 L2012.7 449.9"/>
<path d="M1338.4 143.6 L1341.0 146.3 L1342.8 148.5 L1344.0 149.7 L1345.3 151.8 L1346.7 154.8 L1348.1 157.2 L1350.7 160.0 L1353.3 162.5 L1354.0 163.4 L1353.9 165.5 L1356.2 168.6 L1360.0 170.1 L1362.1 171.0 L1363.3 171.9 L1365.5 172.9 L1369.1 173.3 L1373.5 171.8 L1376.2 170.5 L1378.6 170.8 L1382.2 170.8 L1384.8 169.3 L1385.9 168.2 L1387.1 167.9 L1388.7 168.4 L1389.8 171.1 L1389.9 174.2 L1391.1 175.9 L1394.4 176.5 L1397.7 178.1 L1399.3 181.2 L1400.2 183.7 L1402.4 184.1 L1405.9 185.1 L1409.1 187.4 L1411.5 188.9 L1414.2 189.8 L1417.4 191.9 L1419.6 194.0 L1421.5 194.1 L1425.3 194.6 L1428.7 196.1 L1431.4 196.8 L1435.1 197.8 L1438.4 200.1 L1440.5 201.5 L1442.6 201.2 L1446.1 201.3 L1448.4 202.7 L1449.0 201.4 L1450.5 197.6 L1452.3 195.3 L1454.4 194.1 L1458.1 193.5 L1462.5 194.5 L1466.1 195.9 L1468.8 196.1 L1470.4 195.4 L1471.9 195.9 L1475.1 197.4 L1477.9 197.8 L1479.2 197.6 L1481.1 197.8 L1485.1 199.0 L1489.3 199.7 L1491.5 199.9 L1494.4 200.3 L1498.2 200.0 L1500.8 198.2 L1504.5 197.6 L1508.3 198.6 L1509.7 200.1 L1511.0 201.6 L1513.8 202.4 L1516.6 204.8 L1517.8 208.3 L1518.7 210.2 L1520.1 212.3 L1519.6 215.9 L1519.6 219.8 L1521.8 222.6 L1522.8 224.6 L1522.6 227.3 L1522.4 230.5 L1522.3 232.3 L1522.5 234.5 L1523.2 238.2 L1523.9 241.2 L1523.7 242.8 L1522.7 245.1 L1522.9 248.6 L1524.0 251.2 L1523.8 252.7 L1523.2 255.0 L1523.9 258.4 L1525.7 261.5 L1528.1 262.7 L1530.8 264.1 L1533.8 266.4 L1536.2 268.8 L1537.9 270.0 L1540.0 271.0 L1542.0 273.1 L1544.4 274.9 L1547.8 276.1 L1549.8 277.1 L1551.3 278.1 L1553.8 279.3 L1555.8 280.7 L1556.7 283.3 L1557.2 287.0 L1557.8 290.0 L1558.1 291.2 L1559.4 292.3 L1562.2 295.1 L1565.7 298.5 L1567.7 300.0 L1567.8 300.4 L1567.5 302.8 L1565.5 306.6 L1563.8 308.6 L1564.6 309.3 L1566.1 309.5 L1568.4 308.8 L1571.8 309.0 L1575.6 310.7 L1579.3 312.8 L1581.8 313.9 L1584.0 314.4 L1587.1 315.3 L1589.8 316.1 L1592.8 315.5 L1597.0 314.7 L1600.7 316.1 L1603.6 317.7 L1607.0 317.8 L1609.4 317.8 L1610.3 318.0 L1612.2 318.8 L1616.2 319.5 L1620.6 319.5 L1623.9 320.3 L1626.0 322.5 L1626.8 325.2 L1628.2 327.4 L1629.7 329.7 L1630.5 332.8 L1632.4 335.9 L1634.9 338.3 L1636.4 339.6 L1638.8 341.3 L1641.7 344.7 L1642.8 347.4 L1644.9 348.2 L1647.7 349.0 L1649.1 352.2 L1650.4 356.8 L1651.8 359.7 L1653.3 361.5 L1654.0 364.4 L1654.4 367.8 L1655.9 370.1 L1657.3 372.0 L1657.4 374.5 L1658.4 377.0 L1659.2 379.9 L1657.7 383.0 L1655.9 384.8 L1654.5 387.5 L1653.1 391.4 L1652.1 393.6 L1650.1 394.3 L1647.5 395.7 L1646.1 398.1 L1644.7 401.1 L1642.3 404.2 L1638.7 405.8 L1635.2 406.4 L1633.1 407.7 L1631.4 409.4 L1628.4 410.2 L1624.9 409.8 L1621.2 410.0 L1618.2 411.2 L1615.9 412.1 L1613.9 413.8 L1612.3 415.7 L1609.7 417.4 L1607.0 419.2 L1606.1 421.5"/>
</g>
<path d="M147.9 784.5 L144.4 784.2 L140.8 784.3 L138.4 784.0 L136.1 784.2 L133.8 784.0 L131.6 784.0 L128.6 784.7 L125.2 784.5 L122.2 784.4 L119.0 783.7 L115.8 782.2 L113.0 782.0 L109.8 782.3 L106.7 782.5 L103.3 782.9 L100.0 782.0 L96.9 780.0 L94.1 778.4 L91.9 776.8 L89.0 775.6 L86.1 775.3 L83.2 775.0 L80.2 775.0 L77.7 775.0 L75.5 774.0 L73.2 772.5 L70.8 771.1 L68.1 769.0 L65.3 767.6 L62.3 766.0 L59.0 764.4 L55.7 764.1 L52.0 763.2 L48.7 762.5 L45.7 761.4 L43.2 759.1 L40.8 757.8 L39.2 756.7 L38.4 755.3 L37.6 753.2 L37.0 750.3 L36.1 746.9 L35.2 743.0 L34.2 740.2 L32.7 738.8 L31.9 736.7 L31.2 734.2 L31.2 731.6 L32.9 728.7 L34.9 726.3 L36.8 724.2 L38.3 721.8 L40.1 719.2 L42.1 716.5 L43.9 713.8 L45.9 711.7 L47.7 709.4 L49.8 707.2 L51.8 705.0 L53.4 702.3 L53.9 699.6 L53.9 697.2 L54.1 694.9 L54.1 692.0 L54.6 689.1 L54.6 686.2 L54.2 683.1 L54.1 680.1 L54.2 677.4 L54.1 674.7 L54.7 671.7 L56.1 669.5 L57.6 667.1 L59.7 664.5 L61.6 662.5 L64.0 660.3 L66.0 658.3 L67.8 656.6 L69.4 654.2 L70.3 651.8 L72.1 649.6 L73.6 647.0 L75.2 644.5 L77.5 642.3 L78.8 639.2 L80.4 636.1 L82.1 633.5 L83.1 631.0 L85.0 628.6 L86.6 626.6 L88.0 625.2 L90.0 623.6 L91.7 621.8 L94.1 619.7 L96.5 617.3 L98.2 614.5 L99.5 612.0 L100.8 609.5 L102.8 606.7 L105.5 604.9 L109.1 604.6 L112.6 604.4 L115.0 604.2 L116.6 603.4 L118.6 601.9 L120.8 600.9 L123.8 600.0 L127.4 599.7 L130.5 600.1 L133.5 599.5 L136.6 599.1 L139.7 599.2 L143.0 598.5 L146.3 597.1 L149.2 595.2 L151.6 593.1 L153.6 591.2 L155.8 590.6 L158.7 590.0 L161.9 588.9 L164.6 588.7 L167.0 590.3 L168.8 593.3 L170.7 595.6 L173.9 597.2 L176.9 597.9 L179.9 598.0 L183.0 598.7 L186.2 599.2 L189.3 599.5 L192.2 600.1 L195.9 600.7 L199.5 601.2 L202.9 602.0 L206.3 602.7 L209.2 603.4 L211.8 603.8 L214.7 604.3 L217.5 604.7 L220.2 604.9 L223.7 604.9 L227.4 604.6 L230.8 604.3 L233.8 603.8 L236.5 603.7 L239.2 603.5 L242.6 603.0 L246.0 602.5 L248.6 601.5 L251.2 600.5 L253.9 599.9 L257.1 599.4 L260.9 599.8 L263.6 601.1 L266.7 602.5 L270.2 603.7 L273.9 604.0 L277.8 603.9 L281.3 603.9 L284.1 604.4 L286.3 605.6 L288.5 606.9 L290.9 607.9 L293.1 608.5 L295.6 608.7 L297.6 607.9 L299.4 606.4 L301.6 604.8 L303.9 603.0 L306.7 601.1 L309.5 599.5 L312.7 598.1 L315.2 596.7 L317.4 595.2 L319.6 593.6 L321.8 592.0 L324.4 590.7 L326.2 589.4 L328.2 588.0 L330.2 586.3 L332.4 584.9 L335.0 583.9 L337.4 582.7 L339.8 581.0 L341.8 578.5 L343.6 575.7 L344.5 573.2 L342.5 571.5 L339.5 570.8 L336.7 569.9 L334.1 568.4 L332.0 566.6 L329.9 564.2 L328.0 561.8 L326.0 559.6 L324.3 557.2 L323.8 554.4 L324.1 552.0 L325.3 549.6 L327.5 547.6 L330.1 546.6 L333.0 545.5 L335.6 544.7 L338.0 543.4 L341.3 541.0 L342.6 538.5 L340.9 536.2 L338.7 534.3 L336.9 532.9 L337.0 530.6 L338.4 528.2 L339.9 525.8 L342.1 523.2 L344.6 521.2 L346.9 519.7 L349.4 517.8 L352.1 515.9 L354.3 514.2 L354.3 511.9 L352.7 509.9 L350.4 508.4 L348.3 506.5 L346.2 504.3 L343.7 502.0 L341.3 500.0 L339.2 497.8 L337.5 495.5 L336.3 493.7 L335.0 491.1 L334.6 488.0 L334.8 485.0 L335.4 481.7 L336.2 478.6 L336.7 476.1 L338.0 473.9 L340.5 472.0 L343.1 470.1 L345.7 468.3 L348.8 466.1 L351.7 463.6 L354.1 461.5 L356.8 459.8 L359.1 458.6 L361.3 458.2 L363.1 457.3 L364.9 455.8 L367.4 454.2 L370.1 452.6 L373.1 451.8 L377.1 452.1 L380.6 451.7 L383.6 450.6 L386.6 449.6 L388.8 448.1 L391.0 446.6 L392.7 445.9 L391.8 445.1 L389.5 444.0 L386.7 443.7 L383.6 442.7 L381.8 440.9 L382.6 439.2 L384.2 437.1 L385.8 435.0 L387.4 432.8 L388.1 429.8 L388.8 426.4 L389.9 423.0 L390.6 420.3 L391.1 417.4 L391.8 414.2 L391.5 411.3 L390.4 407.6 L389.9 404.6 L390.0 402.6 L391.2 399.9 L393.3 397.3 L395.1 394.8 L396.7 391.5 L397.9 388.9 L398.7 386.6 L399.3 383.5 L398.6 380.7 L395.8 378.2 L392.2 376.3 L389.1 375.0 L386.8 374.1 L384.6 373.4 L382.8 371.9 L380.7 370.2 L378.4 368.0 L376.6 365.6 L374.4 363.4 L372.4 360.3 L371.2 356.7 L370.4 353.2 L369.4 349.8 L369.2 346.8 L369.8 344.2 L370.5 341.9 L371.7 339.6 L372.9 337.2 L374.3 334.6 L375.5 331.8 L376.3 329.6 L376.7 327.3 L377.0 324.4 L377.2 321.7 L377.1 318.2 L377.3 314.9 L378.6 312.5 L380.2 310.0 L381.6 307.3 L382.9 305.0 L383.9 302.3 L384.8 300.1 L386.4 298.0 L387.7 295.0 L388.5 292.2 L389.5 289.6 L390.8 287.1 L393.4 285.2 L396.5 283.7 L399.6 281.6 L401.8 279.0 L403.3 276.7 L404.9 274.0 L405.8 271.8 L407.1 269.7 L408.9 267.5 L411.0 265.0 L413.6 262.7 L416.3 260.1 L418.1 257.5 L419.5 255.0 L420.8 252.1 L421.7 249.5 L422.9 247.1 L423.9 244.2 L424.9 241.1 L426.0 238.3 L426.7 235.4 L426.8 233.1 L425.8 231.8 L424.6 229.9 L424.5 228.0 L425.9 226.1 L427.5 223.4 L429.0 220.8 L430.8 218.2 L432.5 216.3 L435.0 215.1 L437.3 214.4 L439.5 214.0 L442.4 213.3 L445.2 213.1 L448.3 213.0 L451.5 213.6 L454.8 213.6 L458.0 212.8 L461.4 212.0 L464.3 211.7 L466.7 212.5 L469.4 213.4 L472.0 214.3 L474.9 215.1 L478.3 216.2 L481.4 218.0 L484.2 219.3 L486.5 219.3 L487.9 217.1 L488.9 213.7 L490.1 210.9 L490.8 208.0 L491.3 206.0 L493.4 205.1 L496.6 205.0 L499.5 204.8 L503.2 204.0 L506.8 203.1 L509.4 202.0 L512.7 201.4 L516.2 202.0 L519.1 203.6 L522.2 205.2 L525.2 206.4 L528.1 207.0 L531.0 207.2 L534.2 208.4 L536.8 210.2 L538.5 211.3 L540.7 212.3 L543.0 212.8 L545.2 212.1 L547.9 211.2 L550.4 210.9 L553.1 210.0 L556.1 208.7 L559.2 207.7 L562.2 207.2 L565.1 207.5 L568.8 208.2 L572.4 208.5 L575.6 208.1 L578.6 207.3 L581.0 206.8 L583.5 206.8 L586.7 206.7 L589.3 205.3 L591.5 202.8 L593.8 200.5 L595.7 198.4 L597.8 196.4 L600.4 195.3 L603.8 194.5 L607.5 193.2 L610.7 191.6 L613.3 189.9 L615.1 188.3 L616.4 186.9 L618.4 186.3 L620.9 185.5 L623.4 183.9 L626.3 182.8 L629.7 181.6 L632.6 180.2 L635.5 179.0 L638.5 178.0 L640.7 176.3 L642.8 174.4 L645.3 172.9 L648.2 171.0 L651.3 169.4 L654.1 169.7 L655.7 171.4 L655.6 173.7 L655.8 176.3 L655.9 179.0 L655.2 181.6 L654.8 184.5 L654.7 186.8 L653.9 189.0 L653.0 192.2 L652.7 195.6 L652.2 198.6 L651.9 201.3 L652.0 203.7 L651.7 206.0 L651.0 209.2 L650.2 212.4 L650.1 215.7 L650.2 218.4 L650.5 220.2 L650.9 222.9 L650.2 225.4 L649.8 228.4 L649.3 232.2 L648.5 234.9 L648.1 237.9 L647.9 240.6 L649.2 242.0 L652.0 244.1 L655.4 246.1 L659.2 247.3 L662.6 249.3 L665.0 251.2 L667.2 252.1 L669.5 253.4 L672.0 255.0 L674.8 257.0 L677.4 259.6 L680.0 262.0 L682.8 263.1 L685.9 263.3 L689.2 264.0 L692.1 264.8 L695.6 266.1 L697.6 268.1 L696.9 270.4 L694.9 273.0 L692.2 275.3 L689.9 278.1 L688.7 280.6 L689.4 283.4 L691.6 286.9 L693.3 289.7 L694.7 292.9 L695.9 295.1 L696.8 297.0 L698.7 299.2 L701.1 300.9 L703.4 303.0 L706.5 304.5 L709.5 305.8 L712.4 307.2 L715.9 307.9 L718.5 307.9 L720.5 306.3 L723.0 304.9 L725.8 303.6 L728.4 302.6 L731.4 303.0 L734.4 303.2 L736.9 302.8 L740.0 302.0 L742.7 300.9 L744.7 300.1 L747.0 300.0 L749.6 300.5 L753.2 301.3 L757.4 302.2 L760.9 303.3 L764.0 303.9 L766.7 303.8 L769.0 303.8 L771.5 304.0 L774.3 304.5 L777.3 305.2 L780.5 305.5 L783.9 305.1 L786.5 304.2 L789.2 303.1 L791.5 302.4 L793.6 302.0 L796.5 301.1 L799.0 299.7 L801.0 297.7 L803.2 294.8 L805.0 292.1 L806.5 289.4 L807.9 286.5 L808.6 283.7 L808.7 280.6 L809.1 277.6 L809.1 274.2 L809.1 271.0 L810.5 268.5 L812.4 266.6 L814.6 264.7 L817.3 262.7 L819.6 260.1 L821.6 257.0 L823.3 254.6 L824.2 252.3 L825.5 250.2 L826.8 248.0 L828.0 244.8 L830.4 242.3 L832.9 241.3 L835.5 241.0 L838.8 241.4 L841.5 241.4 L844.5 241.2 L847.5 241.0 L850.0 241.0 L852.6 241.1 L854.7 240.8 L857.7 240.9 L860.7 240.7 L863.6 241.0 L866.5 241.4 L868.5 240.6 L870.4 240.1 L872.9 239.4 L875.5 238.2 L878.5 237.6 L881.9 237.1 L885.4 236.7 L888.8 236.7 L891.8 236.7 L894.2 237.0 L896.3 237.3 L899.0 238.6 L902.4 240.4 L905.6 241.3 L908.3 242.3 L910.5 243.6 L912.2 245.1 L914.7 247.0 L917.9 248.9 L920.6 250.3 L922.8 251.4 L924.5 253.5 L926.4 254.8 L928.8 254.0 L931.4 252.4 L933.8 250.5 L935.7 248.8 L937.5 247.4 L940.0 245.8 L943.1 244.1 L946.4 243.1 L949.3 242.9 L952.0 242.6 L954.5 242.3 L957.0 241.4 L960.1 240.2 L963.4 239.8 L966.0 239.8 L968.7 240.1 L971.7 240.3 L974.4 240.7 L977.2 240.5 L980.0 240.5 L982.3 241.5 L984.2 242.5 L986.5 244.0 L988.9 246.3 L990.5 248.6 L992.3 251.2 L993.5 253.9 L994.6 256.2 L996.0 259.0 L997.5 261.9 L1000.0 264.6 L1002.8 266.4 L1005.0 267.2 L1007.2 268.0 L1009.2 268.7 L1010.9 270.1 L1013.6 271.6 L1016.3 273.2 L1018.4 275.0 L1020.9 276.4 L1023.3 277.3 L1026.2 278.0 L1029.1 278.4 L1031.7 279.3 L1034.4 280.2 L1037.1 281.5 L1040.5 282.8 L1044.0 282.6 L1047.0 282.2 L1050.1 281.6 L1053.3 280.7 L1056.1 280.6 L1059.4 280.9 L1062.4 282.0 L1064.3 283.5 L1067.0 285.1 L1070.0 287.4 L1072.2 289.5 L1074.8 291.2 L1077.0 293.1 L1078.3 295.1 L1080.0 297.0 L1081.7 299.1 L1083.2 301.2 L1085.4 302.9 L1088.2 304.3 L1091.4 305.3 L1094.4 306.0 L1096.7 306.5 L1098.6 307.4 L1100.3 308.5 L1102.5 308.3 L1105.6 307.8 L1108.9 306.4 L1111.5 304.3 L1113.1 301.3 L1113.3 298.1 L1113.5 295.9 L1114.4 293.0 L1114.7 290.1 L1115.0 287.1 L1114.8 283.8 L1114.2 281.2 L1113.7 278.0 L1113.1 274.9 L1113.7 272.7 L1114.9 270.5 L1116.9 268.0 L1118.7 265.7 L1119.7 262.7 L1121.4 260.2 L1124.0 259.7 L1127.4 259.5 L1131.0 259.6 L1134.4 260.4 L1136.7 262.0 L1138.9 264.1 L1141.2 265.3 L1143.1 265.1 L1145.7 264.4 L1148.6 263.6 L1151.0 262.5 L1153.8 261.3 L1156.7 260.2 L1159.6 259.3 L1163.0 259.1 L1166.4 258.8 L1169.1 257.8 L1171.7 256.6 L1174.0 255.6 L1176.4 254.9 L1179.3 254.0 L1182.4 253.2 L1185.8 253.0 L1188.8 253.4 L1191.7 253.7 L1194.8 254.4 L1197.7 254.6 L1200.5 254.7 L1203.7 255.8 L1206.2 256.8 L1208.6 257.4 L1211.8 257.5 L1214.2 257.4 L1216.5 257.8 L1219.1 258.8 L1221.6 259.2 L1224.7 258.6 L1228.4 257.6 L1232.1 256.0 L1235.7 255.0 L1239.0 254.4 L1241.4 253.5 L1243.5 252.8 L1245.6 251.2 L1246.8 249.2 L1248.4 246.7 L1249.9 244.1 L1250.6 241.9 L1251.8 239.4 L1253.5 237.7 L1256.1 236.3 L1258.9 234.3 L1261.0 232.5 L1263.1 230.7 L1264.9 228.8 L1266.2 226.5 L1267.6 223.7 L1269.0 220.6 L1270.1 217.7 L1271.0 215.3 L1271.6 212.8 L1271.4 209.9 L1270.7 206.7 L1270.1 203.7 L1269.6 201.1 L1268.9 199.0 L1269.2 196.7 L1270.6 194.0 L1271.5 190.8 L1272.6 187.8 L1274.3 184.9 L1275.9 182.2 L1277.7 180.3 L1279.2 178.3 L1280.3 175.9 L1281.7 173.6 L1282.7 171.3 L1284.6 168.5 L1286.2 166.0 L1287.5 163.3 L1289.8 160.4 L1292.0 157.7 L1294.1 155.9 L1295.9 154.2 L1298.3 152.2 L1300.8 151.3 L1303.1 150.3 L1306.5 148.7 L1309.7 147.7 L1312.5 146.3 L1315.7 145.2 L1318.3 144.7 L1320.2 144.4 L1323.0 144.2 L1326.4 143.4 L1329.3 141.8 L1331.7 140.5 L1333.9 138.8 L1335.9 136.7 L1338.0 134.4 L1340.9 131.6 L1342.9 128.7 L1343.3 126.7 L1343.8 125.0 L1344.0 123.2 L1344.3 120.5 L1345.2 117.0 L1345.3 113.6 L1345.0 109.8 L1345.2 106.3 L1344.6 103.4 L1343.9 100.6 L1344.3 98.2 L1344.7 95.7 L1345.4 93.3 L1346.7 91.2 L1346.9 88.9 L1344.8 87.4 L1341.9 86.1 L1339.2 84.5 L1336.4 83.4 L1333.7 81.8 L1331.1 80.1 L1328.4 78.7 L1325.7 77.5 L1322.9 77.4 L1319.6 77.4 L1316.3 77.5 L1313.1 77.0 L1310.5 76.1 L1308.5 75.8 L1307.4 74.3 L1306.5 71.6 L1305.7 68.6 L1304.7 65.5 L1303.5 63.1 L1303.0 61.2 L1302.4 59.1 L1301.1 56.1 L1300.2 52.5 L1299.6 49.1 L1299.1 45.8 L1298.2 43.2 L1297.1 40.7 L1296.1 38.4 L1295.2 36.2 L1294.9 33.1 L1293.7 30.2 L1292.4 27.3 L1291.7 23.7 L1290.8 20.8 L1290.3 18.4 L1289.0 16.1 L1287.7 14.3 L1286.8 11.9 L1285.5 9.2 L1284.9 6.3 L1284.4 3.2 L1283.7 0.3 L1283.9 -2.6 L1284.0 -5.9 L1283.9 -9.1 L1284.2 -12.1 L1284.3 -15.3 L1284.1 -18.5 L1283.4 -21.6 L1282.5 -24.3 L1281.9 -26.9 L1282.5 -28.7 L1285.2 -29.2 L1288.6 -29.6 L1291.8 -30.1 L1295.0 -30.6 L1298.3 -31.1 L1301.5 -31.5 L1304.3 -31.5 L1306.9 -31.6 L1309.2 -31.3 L1311.7 -31.2 L1313.9 -30.8 L1316.7 -29.9 L1319.6 -29.5 L1323.0 -29.1 L1326.5 -29.1 L1329.4 -29.9 L1332.8 -30.5 L1335.8 -30.8 L1338.8 -30.8 L1342.5 -30.4 L1345.5 -30.3 L1348.3 -30.6 L1351.5 -30.9 L1353.8 -31.4 L1356.0 -31.8 L1359.1 -31.6 L1362.1 -31.1 L1365.4 -30.8 L1369.3 -30.7 L1372.8 -31.0 L1376.0 -31.6 L1379.2 -31.4 L1382.2 -30.9 L1384.7 -30.5 L1387.1 -29.6 L1389.9 -29.0 L1393.0 -28.6 L1396.4 -28.6 L1400.0 -29.5 L1402.7 -30.2 L1404.8 -30.2 L1406.9 -29.6 L1409.8 -28.8 L1413.6 -28.9 L1417.3 -29.8 L1420.4 -30.2 L1423.5 -30.3 L1426.7 -29.8 L1429.8 -29.2 L1433.1 -29.0 L1436.0 -29.2 L1438.4 -29.8 L1441.5 -30.5 L1444.8 -31.1 L1447.6 -31.2 L1450.4 -30.5 L1453.3 -29.5 L1456.5 -28.8 L1459.6 -28.3 L1462.9 -28.1 L1466.0 -28.2 L1468.4 -28.5 L1471.0 -28.8 L1473.8 -28.9 L1476.3 -29.1 L1479.5 -29.2 L1483.2 -29.3 L1486.2 -29.6 L1489.2 -29.8 L1492.4 -29.6 L1495.8 -29.7 L1498.9 -29.8 L1501.9 -29.5 L1504.6 -29.3 L1506.8 -29.4 L1509.9 -29.5 L1513.1 -29.6 L1516.5 -30.0 L1520.2 -30.0 L1523.2 -29.5 L1526.4 -30.0 L1529.5 -30.1 L1532.3 -30.2 L1535.3 -31.0 L1538.0 -31.2 L1540.9 -30.9 L1543.9 -30.4 L1546.6 -29.8 L1549.2 -29.0 L1551.8 -28.6 L1554.4 -28.6 L1556.8 -28.5 L1559.8 -29.1 L1562.8 -29.6 L1565.9 -29.9 L1569.9 -30.4 L1573.8 -30.3 L1576.9 -30.0 L1579.2 -30.0 L1581.8 -30.2 L1584.5 -30.0 L1587.6 -30.2 L1591.5 -30.2 L1594.9 -29.4 L1597.5 -29.3 L1600.7 -29.2 L1603.4 -29.2 L1605.6 -29.6 L1608.2 -29.6 L1611.0 -30.4 L1614.5 -30.8 L1618.8 -30.6 L1622.3 -30.1 L1625.0 -29.6 L1627.0 -29.4 L1629.1 -29.6 L1632.3 -30.4 L1635.8 -31.0 L1639.1 -30.9 L1642.2 -30.9 L1644.7 -30.7 L1647.2 -29.7 L1649.8 -29.2 L1652.7 -28.7 L1655.9 -28.6 L1658.9 -29.2 L1661.8 -30.0 L1664.9 -30.5 L1668.4 -29.9 L1672.0 -29.1 L1675.8 -28.6 L1679.1 -28.9 L1681.2 -30.0 L1683.6 -31.0 L1686.7 -31.6 L1690.2 -30.9 L1693.5 -29.8 L1697.0 -29.2 L1699.7 -28.9 L1702.2 -28.8 L1705.4 -29.1 L1707.9 -29.3 L1710.5 -29.4 L1713.1 -29.3 L1715.3 -29.0 L1718.1 -28.2 L1721.5 -27.7 L1725.0 -27.7 L1728.5 -27.9 L1731.6 -28.0 L1734.4 -28.6 L1737.5 -29.6 L1740.7 -30.3 L1743.5 -31.2 L1746.5 -30.9 L1749.4 -29.8 L1752.7 -29.1 L1756.6 -28.8 L1759.4 -29.1 L1761.7 -29.5 L1764.0 -29.7 L1766.7 -29.5 L1769.8 -29.5 L1773.2 -30.1 L1776.8 -30.2 L1780.0 -29.7 L1783.2 -28.9 L1786.4 -28.0 L1789.3 -28.1 L1792.4 -29.0 L1795.4 -29.5 L1798.6 -29.7 L1802.0 -29.7 L1805.2 -29.7 L1808.7 -30.2 L1811.5 -30.5 L1813.6 -30.0 L1816.2 -29.7 L1818.7 -29.5 L1822.0 -29.4 L1825.9 -30.0 L1829.3 -30.1 L1832.6 -29.8 L1835.2 -29.2 L1837.4 -28.9 L1840.0 -29.3 L1842.5 -29.7 L1845.6 -29.8 L1848.7 -30.0 L1851.3 -29.8 L1854.6 -29.9 L1858.0 -30.6 L1861.1 -30.3 L1863.9 -29.7 L1866.3 -29.8 L1868.7 -30.0 L1871.8 -30.4 L1875.7 -30.6 L1879.3 -30.4 L1882.6 -30.6 L1885.6 -30.8 L1888.1 -31.4 L1891.0 -31.3 L1893.8 -30.7 L1896.9 -30.0 L1900.5 -29.2 L1903.4 -28.9 L1906.6 -29.0 L1909.5 -29.1 L1911.8 -29.0 L1915.0 -29.4 L1918.2 -29.6 L1920.6 -29.2 L1923.6 -29.7 L1926.6 -30.2 L1929.8 -30.7 L1933.8 -31.1 L1937.1 -30.8 L1939.5 -30.0 L1941.5 -29.6 L1943.4 -29.8 L1945.8 -29.9 L1949.1 -30.1 L1952.6 -29.6 L1956.0 -29.3 L1959.6 -29.6 L1962.9 -29.5 L1965.6 -29.3 L1968.9 -29.4 L1971.9 -29.6 L1975.0 -30.0 L1978.5 -30.8 L1981.1 -31.0 L1983.5 -30.3 L1986.2 -29.9 L1989.1 -29.6 L1992.2 -29.5 L1995.7 -29.6 L1999.0 -29.3 L2001.5 -29.1 L2004.6 -29.3 L2007.7 -29.6 L2011.0 -30.5 L2014.7 -30.5 L2017.9 -29.9 L2020.7 -29.4 L2022.9 -29.0 L2025.8 -29.1 L2028.5 -29.4 L2031.6 -30.0 L2035.1 -29.8 L2037.8 -29.2 L2041.1 -28.9 L2044.6 -28.7 L2047.7 -28.9 L2051.1 -29.4 L2053.7 -30.2 L2056.4 -30.6 L2059.1 -30.1 L2061.7 -29.8 L2064.8 -29.7 L2067.4 -29.4 L2070.1 -29.1 L2073.0 -29.0 L2075.8 -28.6 L2078.5 -28.9 L2081.5 -29.8 L2084.9 -30.7 L2088.2 -31.3 L2091.8 -31.5 L2095.3 -31.2 L2098.3 -30.8 L2101.8 -30.9 L2104.8 -31.1 L2107.2 -31.1 L2110.0 -31.1 L2112.6 -31.1 L2115.4 -30.7 L2118.0 -30.4 L2120.7 -30.4 L2123.6 -29.9 L2126.8 -29.7 L2130.5 -30.0 L2134.0 -30.6 L2136.8 -30.9 L2139.9 -31.3 L2143.3 -31.3 L2146.4 -31.3 L2149.2 -31.6 L2152.0 -31.5 L2154.9 -31.0 L2158.1 -30.0 L2161.7 -29.4 L2164.5 -29.4 L2167.2 -30.1 L2169.5 -30.7 L2172.3 -30.6 L2175.5 -30.2 L2178.7 -30.1 L2182.5 -30.5 L2185.7 -30.3 L2188.7 -30.1 L2191.4 -30.0 L2193.6 -29.8 L2196.2 -30.1 L2198.6 -30.1 L2201.6 -29.9 L2205.3 -29.9 L2208.6 -30.1 L2211.4 -30.6 L2213.5 -29.7 L2213.6 -27.3 L2212.4 -24.9 L2211.7 -22.1 L2210.2 -19.5 L2208.2 -16.8 L2207.4 -13.5 L2206.9 -10.9 L2206.3 -8.3 L2205.2 -5.6 L2203.6 -3.2 L2201.5 -0.6 L2198.8 1.1 L2196.2 1.9 L2193.5 3.3 L2190.7 4.1 L2188.1 5.2 L2185.3 6.7 L2182.3 8.5 L2179.9 10.2 L2177.8 11.3 L2175.2 12.7 L2172.9 14.2 L2170.4 16.1 L2167.3 18.4 L2164.8 20.2 L2162.4 21.5 L2159.3 22.5 L2156.2 23.6 L2153.9 25.1 L2151.8 27.5 L2150.2 29.7 L2148.9 31.5 L2147.3 33.5 L2145.2 35.4 L2143.3 37.7 L2142.5 40.5 L2142.1 43.1 L2142.0 46.2 L2141.8 49.3 L2141.7 52.3 L2142.0 55.2 L2143.4 57.4 L2145.0 60.0 L2146.7 62.7 L2149.7 64.9 L2152.5 67.1 L2154.8 68.9 L2157.4 70.4 L2159.9 71.9 L2162.5 73.0 L2165.6 73.7 L2168.9 74.1 L2172.4 74.6 L2175.4 75.1 L2178.5 75.6 L2181.2 76.8 L2183.6 77.4 L2187.0 77.8 L2190.0 78.8 L2192.9 79.3 L2195.7 80.6 L2197.9 82.1 L2199.8 83.1 L2202.3 85.0 L2205.2 87.5 L2207.5 90.0 L2210.2 92.9 L2213.1 95.6 L2215.0 98.1 L2217.4 100.7 L2219.1 103.1 L2218.7 105.1 L2217.1 107.1 L2214.8 109.2 L2212.9 111.9 L2211.9 115.3 L2210.4 118.5 L2208.7 121.9 L2207.6 125.4 L2206.9 127.6 L2206.6 129.7 L2206.4 132.1 L2205.4 134.2 L2203.4 136.9 L2201.2 139.9 L2199.1 142.7 L2196.6 144.9 L2194.3 146.5 L2191.7 147.6 L2189.0 148.7 L2186.6 149.7 L2183.7 149.7 L2180.8 150.0 L2178.8 151.1 L2176.6 152.2 L2174.5 154.2 L2172.3 156.4 L2169.9 158.1 L2167.9 160.5 L2166.0 162.8 L2164.8 164.9 L2163.4 167.1 L2161.5 170.0 L2159.4 172.2 L2156.7 174.3 L2154.2 176.5 L2152.1 178.2 L2149.9 180.8 L2148.0 183.6 L2147.2 186.1 L2148.8 188.5 L2151.9 190.4 L2154.5 192.0 L2157.2 193.9 L2159.6 195.5 L2162.1 195.1 L2164.6 194.1 L2167.1 193.0 L2170.1 191.5 L2173.5 190.8 L2176.4 189.7 L2178.5 188.2 L2180.0 186.9 L2181.2 184.8 L2182.9 183.1 L2184.8 181.6 L2187.0 180.4 L2189.5 179.3 L2191.7 177.8 L2194.6 177.4 L2196.9 178.5 L2199.0 180.9 L2201.3 184.0 L2202.5 186.6 L2203.6 188.9 L2204.8 190.9 L2205.5 192.6 L2206.5 195.1 L2207.2 198.0 L2208.1 201.2 L2209.1 204.8 L2209.9 207.8 L2211.2 210.8 L2212.2 213.5 L2213.3 215.5 L2214.9 217.8 L2216.5 220.3 L2219.0 222.5 L2220.9 224.4 L2222.3 225.9 L2224.3 227.0 L2226.4 228.1 L2228.5 229.8 L2230.6 231.7 L2232.8 233.9 L2234.9 236.7 L2236.6 239.9 L2237.8 243.2 L2238.5 246.6 L2239.0 249.5 L2239.8 252.1 L2241.1 254.8 L2242.3 256.8 L2243.7 258.9 L2246.2 260.9 L2248.4 263.0 L2249.3 265.7 L2247.7 267.9 L2244.6 269.9 L2241.8 271.6 L2239.3 273.0 L2236.8 274.8 L2234.8 276.3 L2232.5 277.7 L2230.4 279.9 L2229.3 282.6 L2228.7 286.3 L2228.0 289.5 L2226.5 291.7 L2223.9 293.4 L2220.7 294.7 L2217.4 296.4 L2214.4 298.0 L2212.5 300.0 L2211.4 301.7 L2209.2 302.4 L2206.3 302.2 L2202.8 301.4 L2198.5 301.4 L2195.1 302.3 L2192.4 303.2 L2189.4 304.2 L2186.6 304.8 L2183.5 305.2 L2180.2 305.7 L2177.1 306.2 L2173.9 307.2 L2171.6 308.2 L2172.0 310.1 L2173.9 312.7 L2175.7 315.4 L2178.1 318.2 L2179.3 321.2 L2178.0 323.6 L2175.7 325.1 L2173.2 326.7 L2170.4 328.2 L2167.7 330.0 L2164.8 331.7 L2161.9 333.3 L2158.8 334.8 L2155.4 335.7 L2152.5 336.7 L2150.0 338.3 L2147.5 339.9 L2145.0 341.3 L2142.4 342.8 L2139.2 344.4 L2136.6 345.5 L2134.3 347.1 L2132.4 348.7 L2131.1 351.2 L2130.1 354.4 L2129.2 357.6 L2128.0 360.7 L2126.1 363.4 L2124.3 366.0 L2123.8 368.2 L2124.1 370.9 L2124.9 373.5 L2125.8 376.1 L2125.6 379.6 L2124.2 381.9 L2120.8 383.0 L2117.2 384.1 L2114.8 385.3 L2112.2 387.2 L2109.9 389.0 L2107.3 390.1 L2103.9 390.5 L2100.9 391.1 L2098.0 391.8 L2094.9 392.9 L2092.4 394.7 L2090.4 396.7 L2088.4 398.8 L2086.5 400.8 L2084.3 402.4 L2081.5 403.7 L2078.9 405.2 L2076.4 406.4 L2074.1 408.0 L2072.2 410.1 L2069.6 412.4 L2066.4 415.4 L2064.1 417.6 L2061.7 418.7 L2059.6 419.9 L2058.6 421.7 L2056.5 424.3 L2053.9 427.0 L2051.3 429.3 L2048.8 431.5 L2047.9 433.9 L2048.2 436.8 L2048.4 439.4 L2048.8 441.7 L2049.4 443.2 L2050.8 444.9 L2053.0 446.9 L2055.5 449.2 L2058.1 451.5 L2060.6 452.7 L2061.6 453.1 L2059.3 453.2 L2055.7 453.3 L2052.6 453.4 L2049.7 454.0 L2047.1 454.5 L2044.5 454.7 L2040.9 455.4 L2036.7 455.5 L2033.0 455.1 L2029.9 455.6 L2027.2 455.6 L2024.7 455.9 L2021.6 457.1 L2018.4 457.9 L2014.9 459.4 L2011.9 460.8 L2009.4 462.1 L2006.6 463.8 L2004.8 465.1 L2003.3 466.7 L2001.6 468.5 L2001.0 470.2 L2001.3 472.1 L2001.8 474.5 L2002.2 476.9 L2002.4 479.6 L2003.4 482.7 L2004.9 486.1 L2006.7 489.9 L2008.4 493.5 L2009.1 497.2 L2008.9 500.7 L2008.5 503.1 L2008.2 505.8 L2008.2 508.7 L2007.9 510.9 L2007.2 514.0 L2007.6 517.2 L2008.9 519.1 L2011.2 521.6 L2013.5 524.5 L2014.3 526.6 L2012.3 529.0 L2009.2 531.0 L2006.0 531.9 L2002.8 533.4 L2000.5 535.6 L1998.0 537.3 L1995.4 539.2 L1993.5 540.7 L1991.4 542.0 L1989.2 544.2 L1987.4 546.9 L1985.2 549.1 L1982.8 551.1 L1981.1 552.7 L1979.1 553.5 L1977.0 554.8 L1975.6 556.2 L1974.4 558.2 L1973.5 561.2 L1972.8 564.1 L1972.5 566.4 L1973.8 568.4 L1976.1 570.1 L1977.6 571.7 L1978.1 574.2 L1978.6 576.7 L1978.3 579.2 L1977.8 582.2 L1978.0 585.4 L1978.8 587.9 L1980.7 590.0 L1983.0 592.0 L1984.6 593.7 L1986.3 595.8 L1987.4 598.2 L1989.0 600.4 L1991.1 602.4 L1992.4 604.6 L1993.1 607.1 L1992.8 610.1 L1992.4 612.8 L1992.5 615.8 L1993.2 618.5 L1994.3 620.3 L1994.8 622.8 L1995.7 625.1 L1996.9 627.3 L1998.3 630.2 L2000.2 633.0 L2002.1 635.7 L2004.0 638.2 L2004.8 640.3 L2003.4 642.2 L2000.6 643.9 L1997.6 646.0 L1995.4 647.5 L1993.0 648.3 L1990.0 648.3 L1987.0 648.3 L1984.0 649.4 L1981.5 649.9 L1978.8 650.1 L1975.3 650.5 L1971.5 650.7 L1967.8 651.1 L1964.5 651.6 L1961.4 651.4 L1958.5 650.8 L1955.2 651.2 L1952.0 652.0 L1949.1 652.7 L1946.0 652.8 L1943.5 652.3 L1940.7 651.9 L1938.3 651.2 L1936.2 650.5 L1933.0 649.8 L1930.1 648.7 L1927.6 647.3 L1924.9 646.4 L1923.1 646.2 L1920.6 647.4 L1917.8 649.4 L1914.9 651.0 L1912.1 653.1 L1910.1 655.5 L1908.1 657.7 L1906.2 660.1 L1904.0 662.1 L1901.7 663.0 L1899.5 664.5 L1897.1 666.5 L1894.6 668.1 L1891.6 669.7 L1888.8 671.6 L1886.3 673.2 L1883.6 674.6 L1880.8 676.3 L1878.1 677.5 L1875.3 678.9 L1872.3 680.7 L1869.7 682.8 L1867.0 684.7 L1864.6 685.7 L1863.1 687.1 L1861.3 688.6 L1859.2 690.1 L1856.3 692.2 L1853.8 694.0 L1851.6 695.7 L1849.4 697.9 L1847.2 700.8 L1844.3 703.3 L1841.6 705.4 L1839.8 707.1 L1838.3 709.0 L1837.0 710.9 L1835.0 712.9 L1832.3 715.2 L1830.4 716.9 L1829.0 718.8 L1827.3 720.9 L1825.7 723.4 L1823.9 726.0 L1821.5 727.8 L1819.4 729.4 L1816.7 730.7 L1813.7 731.8 L1811.2 732.3 L1808.8 733.3 L1806.9 734.1 L1804.4 734.8 L1801.2 736.0 L1797.7 736.9 L1794.2 737.9 L1791.6 738.7 L1789.6 740.7 L1787.5 742.7 L1785.9 744.9 L1784.4 747.4 L1782.8 749.1 L1781.0 751.3 L1778.1 753.7 L1774.7 755.8 L1771.5 757.9 L1769.4 760.0 L1767.8 762.1 L1766.0 764.9 L1764.4 768.0 L1762.2 770.5 L1760.0 772.5 L1758.2 774.4 L1756.1 776.4 L1754.3 778.1 L1752.5 780.2 L1750.6 782.6 L1748.8 785.0 L1746.9 787.9 L1745.2 790.3 L1743.4 792.4 L1741.7 794.9 L1739.6 797.3 L1737.6 800.0 L1735.3 802.6 L1732.9 804.8 L1731.2 806.9 L1729.2 808.7 L1727.3 810.7 L1725.4 813.1 L1722.8 815.4 L1721.1 817.8 L1719.7 820.7 L1718.4 823.6 L1717.1 826.9 L1715.0 830.3 L1713.4 833.0 L1713.2 835.6 L1714.1 838.2 L1715.8 840.9 L1718.2 843.6 L1719.6 846.5 L1719.1 850.1 L1717.1 852.9 L1714.2 854.6 L1711.7 855.8 L1709.4 856.6 L1706.3 858.1 L1703.0 859.4 L1699.8 859.6 L1697.5 859.8 L1695.4 859.9 L1693.2 859.9 L1690.9 860.3 L1688.1 859.9 L1685.9 858.5 L1684.2 856.5 L1681.7 854.6 L1679.5 852.5 L1677.1 850.5 L1674.3 849.1 L1671.8 847.7 L1669.1 846.6 L1666.0 846.7 L1662.4 847.0 L1658.9 847.2 L1655.7 848.2 L1652.8 848.8 L1650.2 849.4 L1647.5 849.4 L1644.7 848.9 L1641.8 847.6 L1639.2 846.2 L1637.1 844.9 L1634.7 843.9 L1631.7 843.9 L1628.7 844.8 L1625.7 845.7 L1622.7 845.9 L1620.4 845.9 L1618.3 845.7 L1616.0 845.5 L1613.5 846.3 L1610.6 847.1 L1607.6 847.7 L1604.0 848.4 L1600.5 848.6 L1597.2 848.8 L1593.2 849.0 L1590.0 848.9 L1587.4 849.0 L1584.2 849.1 L1581.2 850.0 L1578.2 850.9 L1574.5 852.0 L1571.2 853.2 L1568.3 853.0 L1564.7 853.2 L1561.6 853.6 L1558.3 853.7 L1555.0 854.6 L1551.9 855.4 L1548.5 855.9 L1545.9 856.4 L1543.9 856.7 L1541.3 857.0 L1538.8 856.9 L1535.9 856.8 L1532.5 856.9 L1529.5 856.8 L1526.0 856.2 L1522.6 855.7 L1520.2 854.3 L1519.9 851.5 L1520.2 848.3 L1519.7 845.4 L1518.4 843.0 L1516.3 841.2 L1514.4 838.9 L1512.6 836.3 L1509.9 834.5 L1507.4 833.1 L1505.1 831.9 L1502.5 831.0 L1500.6 829.1 L1498.7 826.9 L1496.8 825.1 L1495.1 822.5 L1492.9 819.9 L1490.4 817.6 L1488.1 815.0 L1486.1 813.3 L1485.0 811.8 L1483.8 810.3 L1482.8 808.5 L1482.9 805.5 L1482.6 802.4 L1481.7 799.1 L1480.9 795.5 L1479.5 792.9 L1478.5 790.3 L1478.7 787.5 L1480.0 785.2 L1481.4 782.6 L1481.9 780.6 L1480.1 779.8 L1476.4 779.2 L1472.6 778.2 L1469.0 777.1 L1466.1 776.4 L1463.9 776.5 L1461.3 777.0 L1459.0 777.9 L1456.6 778.6 L1453.8 778.8 L1451.3 778.4 L1447.9 777.9 L1443.6 777.6 L1439.8 777.2 L1436.1 777.2 L1432.6 776.7 L1429.6 776.7 L1426.5 777.4 L1424.0 778.7 L1421.6 780.2 L1418.8 781.0 L1416.2 782.1 L1413.0 783.4 L1410.0 784.0 L1407.9 785.3 L1405.7 786.8 L1403.7 788.5 L1401.0 790.7 L1397.7 792.6 L1394.6 794.1 L1391.5 795.5 L1389.6 797.1 L1388.3 798.9 L1386.6 801.0 L1385.1 803.3 L1383.2 806.0 L1381.4 808.8 L1379.9 811.6 L1378.3 814.0 L1376.2 815.8 L1373.6 818.0 L1370.8 820.6 L1368.0 822.4 L1365.7 824.5 L1363.7 826.3 L1361.1 826.9 L1358.6 828.1 L1356.1 829.4 L1353.6 830.4 L1351.8 832.3 L1349.1 834.3 L1345.9 836.8 L1342.8 839.2 L1339.3 841.0 L1336.8 842.3 L1334.8 843.1 L1332.0 844.3 L1329.3 846.5 L1326.7 848.8 L1324.6 851.5 L1322.9 854.1 L1321.4 855.8 L1320.0 857.1 L1318.0 858.8 L1316.2 860.8 L1314.6 862.9 L1312.1 865.4 L1309.2 867.5 L1306.8 869.4 L1304.4 871.8 L1302.4 873.7 L1300.9 874.8 L1298.3 875.7 L1295.8 876.8 L1293.6 878.7 L1291.1 881.1 L1289.3 883.2 L1287.9 886.4 L1286.6 890.5 L1285.3 894.1 L1283.9 896.7 L1282.0 898.2 L1280.1 899.8 L1277.7 901.5 L1274.6 903.6 L1272.1 905.4 L1269.5 906.0 L1267.4 907.0 L1265.5 908.6 L1263.1 910.1 L1260.2 912.2 L1257.4 914.4 L1255.1 915.7 L1252.5 917.0 L1250.0 918.9 L1247.6 920.7 L1244.7 922.2 L1242.0 924.6 L1239.9 926.7 L1237.8 928.2 L1235.2 929.8 L1232.3 931.1 L1229.8 932.4 L1227.2 934.2 L1224.4 936.1 L1222.0 938.0 L1218.9 939.3 L1215.8 940.5 L1213.4 942.4 L1210.9 944.6 L1208.3 946.5 L1205.2 948.4 L1202.5 949.4 L1200.6 949.8 L1197.9 950.3 L1195.3 950.9 L1192.7 951.8 L1189.4 953.3 L1187.0 954.7 L1184.7 956.3 L1182.0 958.4 L1179.7 959.8 L1177.0 961.2 L1174.5 962.6 L1171.7 964.1 L1168.4 966.3 L1165.6 968.2 L1162.5 970.2 L1159.7 971.7 L1157.1 972.2 L1153.6 972.7 L1150.4 973.6 L1148.2 975.1 L1147.2 977.3 L1146.6 979.8 L1146.0 982.2 L1144.7 984.3 L1143.1 987.0 L1141.6 989.9 L1139.7 992.6 L1137.7 995.0 L1136.0 997.7 L1134.0 1000.2 L1131.5 1002.5 L1128.9 1004.2 L1125.8 1005.3 L1122.9 1006.8 L1121.0 1007.8 L1118.7 1009.6 L1116.7 1011.2 L1114.7 1012.1 L1112.9 1014.6 L1112.2 1017.5 L1110.9 1019.9 L1109.5 1022.8 L1108.4 1025.4 L1107.4 1028.1 L1106.8 1031.8 L1106.3 1035.0 L1105.8 1037.5 L1104.2 1040.2 L1102.2 1042.8 L1100.9 1045.7 L1099.3 1049.5 L1097.4 1052.8 L1095.7 1055.4 L1093.4 1057.6 L1091.2 1059.2 L1090.0 1061.5 L1088.5 1064.4 L1086.8 1067.2 L1085.3 1069.8 L1083.5 1071.4 L1081.7 1072.5 L1079.4 1073.8 L1076.7 1075.1 L1074.0 1076.8 L1071.3 1078.4 L1068.8 1080.4 L1066.1 1082.3 L1063.6 1083.8 L1060.8 1085.5 L1058.1 1086.5 L1055.9 1087.0 L1052.7 1088.2 L1049.6 1089.2 L1046.4 1090.4 L1043.1 1092.2 L1041.0 1093.9 L1039.4 1095.1 L1037.7 1096.2 L1035.6 1097.1 L1032.3 1097.9 L1028.6 1098.5 L1024.6 1099.4 L1020.9 1100.6 L1017.9 1101.4 L1015.3 1102.0 L1013.5 1102.9 L1011.1 1103.7 L1008.7 1104.6 L1006.2 1105.8 L1003.3 1107.3 L1000.4 1108.3 L997.3 1109.0 L994.2 1110.0 L990.5 1110.2 L987.6 1110.3 L985.0 1111.3 L982.0 1112.5 L979.3 1114.1 L975.9 1115.7 L972.7 1117.1 L970.1 1118.5 L967.6 1120.2 L965.7 1121.7 L963.4 1123.0 L960.3 1124.0 L958.7 1125.0 L959.1 1127.2 L960.4 1129.5 L962.8 1131.6 L964.8 1134.0 L966.2 1136.1 L967.0 1138.9 L967.1 1142.7 L967.8 1146.0 L968.6 1148.9 L969.3 1151.9 L969.6 1154.8 L969.4 1156.9 L969.7 1159.5 L970.2 1162.6 L971.2 1165.3 L972.8 1168.5 L974.6 1170.9 L976.5 1172.1 L978.7 1173.6 L981.8 1175.2 L985.2 1176.5 L988.3 1178.4 L990.6 1180.5 L992.0 1182.3 L993.6 1184.6 L995.5 1186.2 L997.8 1187.1 L1000.6 1188.4 L1002.5 1189.1 L1002.0 1190.3 L999.7 1191.6 L996.8 1192.8 L994.2 1194.7 L992.2 1196.7 L990.9 1199.2 L989.9 1202.2 L989.4 1205.4 L990.4 1207.8 L991.8 1210.2 L992.9 1212.5 L994.4 1214.3 L995.9 1216.6 L998.0 1218.5 L1000.3 1219.7 L1002.4 1221.1 L1004.9 1222.1 L1007.9 1223.1 L1011.3 1223.9 L1014.5 1223.8 L1017.9 1223.6 L1020.8 1223.3 L1023.5 1223.5 L1026.5 1224.8 L1028.8 1226.5 L1031.5 1228.4 L1034.2 1229.7 L1036.4 1230.7 L1038.2 1231.7 L1037.1 1233.3 L1034.5 1235.5 L1032.4 1237.4 L1029.8 1239.7 L1026.9 1242.5 L1024.9 1245.0 L1022.8 1247.8 L1020.5 1251.0 L1019.8 1253.5 L1020.9 1256.0 L1022.9 1258.3 L1025.9 1260.1 L1028.4 1261.6 L1030.4 1263.1 L1033.2 1264.7 L1035.6 1266.0 L1037.8 1267.5 L1040.6 1269.0 L1042.9 1270.9 L1044.4 1273.0 L1046.3 1275.4 L1048.1 1277.9 L1049.5 1280.2 L1050.7 1283.2 L1051.7 1285.9 L1052.7 1288.7 L1053.5 1292.2 L1054.2 1295.3 L1054.9 1298.7 L1055.5 1301.6 L1056.4 1304.2 L1057.8 1307.6 L1058.1 1310.3 L1056.2 1311.9 L1053.2 1311.9 L1050.1 1311.1 L1047.5 1310.7 L1045.3 1310.2 L1042.8 1309.9 L1039.6 1309.9 L1035.9 1309.3 L1032.0 1308.7 L1028.7 1308.9 L1026.2 1309.6 L1024.1 1310.4 L1021.5 1310.9 L1018.4 1310.5 L1015.5 1309.8 L1012.5 1309.2 L1009.4 1309.6 L1007.0 1309.8 L1004.1 1309.9 L1000.9 1309.7 L998.3 1308.7 L995.0 1308.3 L991.1 1308.6 L987.5 1309.2 L983.9 1310.2 L980.9 1310.9 L978.0 1311.6 L974.9 1311.9 L971.9 1311.9 L968.8 1311.9 L965.8 1311.7 L963.2 1311.6 L960.9 1311.8 L958.3 1312.0 L955.2 1312.0 L952.3 1311.4 L948.8 1310.9 L945.2 1310.8 L942.9 1310.8 L940.1 1311.4 L937.5 1311.9 L935.2 1312.0 L931.9 1312.2 L928.5 1311.9 L924.8 1311.1 L921.5 1310.3 L919.2 1309.6 L916.7 1309.3 L914.0 1309.5 L910.9 1309.4 L907.8 1308.9 L904.9 1308.8 L902.2 1309.0 L899.3 1309.3 L895.5 1309.7 L891.7 1309.6 L887.9 1309.5 L885.0 1309.3 L883.0 1308.9 L880.4 1308.4 L877.9 1308.1 L875.3 1308.8 L872.1 1309.2 L869.2 1309.3 L866.5 1309.1 L863.3 1309.1 L860.3 1309.5 L857.4 1310.5 L854.4 1311.0 L851.5 1310.9 L848.5 1311.2 L845.5 1310.9 L842.7 1310.4 L839.8 1309.9 L836.8 1309.1 L833.6 1309.2 L830.4 1310.3 L827.0 1310.7 L823.5 1310.6 L820.7 1310.4 L817.6 1309.7 L814.2 1309.9 L811.4 1310.6 L807.9 1311.0 L804.5 1311.4 L801.5 1311.7 L798.4 1311.1 L795.7 1310.3 L792.9 1309.4 L789.8 1308.7 L786.7 1309.1 L783.4 1309.9 L780.7 1310.2 L778.3 1310.2 L775.6 1309.7 L773.1 1309.0 L770.2 1308.8 L766.9 1308.6 L763.5 1308.8 L760.1 1309.7 L757.0 1310.4 L754.1 1310.7 L750.9 1310.9 L747.5 1310.2 L744.5 1309.6 L741.6 1309.5 L739.0 1309.5 L736.5 1309.8 L733.3 1309.9 L730.0 1309.9 L726.9 1309.5 L723.4 1309.4 L720.7 1310.2 L718.9 1310.6 L716.7 1310.9 L714.3 1310.9 L711.5 1310.9 L708.1 1310.8 L704.9 1311.0 L701.6 1310.8 L697.8 1309.9 L693.9 1309.4 L690.1 1308.8 L686.6 1309.0 L683.6 1309.4 L681.2 1309.4 L679.2 1309.5 L676.6 1308.8 L674.1 1308.2 L671.4 1308.1 L668.0 1308.0 L665.5 1308.2 L662.8 1309.1 L659.6 1310.3 L656.2 1311.2 L652.4 1312.1 L649.3 1312.2 L646.6 1311.0 L644.1 1310.3 L641.3 1309.5 L638.2 1308.8 L635.4 1309.0 L632.1 1309.3 L629.0 1309.5 L626.2 1310.3 L622.9 1311.3 L619.6 1311.6 L616.7 1311.5 L613.5 1311.0 L610.3 1310.1 L607.8 1309.6 L604.9 1309.4 L601.8 1309.6 L598.6 1309.9 L595.6 1309.4 L593.4 1309.2 L591.5 1308.6 L591.2 1306.4 L591.5 1303.5 L590.5 1300.8 L590.5 1297.8 L590.8 1294.7 L591.1 1292.4 L592.3 1289.5 L593.4 1286.4 L593.7 1283.6 L593.0 1280.6 L591.0 1278.4 L588.4 1276.8 L586.4 1274.6 L584.4 1272.6 L581.3 1270.6 L577.8 1268.2 L574.6 1265.9 L572.1 1263.4 L570.5 1261.4 L569.0 1259.5 L566.8 1257.5 L563.8 1256.2 L561.0 1254.2 L558.1 1252.3 L555.7 1250.4 L554.0 1247.8 L551.6 1245.5 L549.4 1243.6 L547.5 1242.2 L545.6 1241.0 L544.1 1239.8 L542.3 1238.3 L539.7 1236.2 L536.8 1233.4 L534.1 1230.9 L531.1 1228.7 L528.4 1226.9 L526.0 1225.2 L523.7 1223.3 L521.6 1221.7 L519.3 1220.0 L516.5 1218.6 L513.8 1217.2 L511.8 1214.7 L510.2 1211.9 L508.9 1209.5 L507.0 1207.3 L504.3 1205.4 L501.9 1203.9 L499.4 1201.6 L496.7 1199.1 L494.4 1197.4 L491.9 1196.1 L489.3 1195.1 L487.3 1193.5 L485.7 1191.0 L483.7 1188.3 L481.4 1185.8 L479.6 1184.1 L477.7 1182.2 L475.8 1180.0 L474.3 1177.1 L472.8 1173.7 L471.0 1171.0 L469.6 1168.8 L468.8 1166.8 L467.6 1164.9 L466.3 1162.1 L465.1 1158.7 L464.2 1155.5 L463.2 1152.1 L462.8 1149.3 L462.1 1146.7 L459.9 1143.5 L458.4 1140.5 L456.9 1138.0 L456.2 1136.2 L458.0 1135.2 L460.5 1134.7 L462.6 1133.6 L464.0 1131.7 L464.5 1129.2 L464.7 1126.0 L464.8 1122.7 L465.4 1119.6 L465.1 1116.7 L464.0 1114.3 L463.5 1111.7 L463.0 1108.8 L462.6 1105.7 L461.9 1102.3 L461.2 1099.3 L460.9 1096.6 L460.8 1094.2 L461.7 1091.8 L462.6 1089.4 L463.0 1087.6 L463.8 1085.5 L464.8 1083.3 L466.0 1080.5 L467.9 1077.1 L470.4 1074.5 L472.9 1072.9 L475.3 1072.3 L477.6 1071.5 L480.3 1070.0 L483.5 1068.0 L485.9 1065.1 L486.5 1062.2 L486.3 1059.1 L486.2 1055.9 L486.2 1052.9 L486.5 1050.0 L486.6 1047.7 L486.6 1045.4 L487.2 1042.8 L487.5 1040.3 L487.6 1037.0 L487.7 1033.6 L487.0 1030.7 L486.2 1027.6 L485.2 1024.5 L483.7 1021.7 L483.0 1019.3 L483.5 1017.3 L484.7 1015.5 L486.6 1013.6 L488.2 1011.1 L489.3 1007.9 L490.5 1004.8 L491.3 1002.4 L491.5 999.9 L491.9 997.1 L492.1 994.2 L492.2 991.2 L492.6 988.2 L491.9 985.3 L490.9 982.4 L489.5 979.2 L488.4 976.6 L487.2 975.1 L485.7 973.6 L485.6 971.7 L487.1 968.9 L489.2 966.2 L491.2 963.8 L492.9 961.6 L494.0 960.3 L495.8 958.4 L497.9 956.0 L499.9 954.2 L501.1 952.7 L498.8 951.8 L495.0 952.1 L491.8 951.6 L489.2 950.2 L487.0 949.6 L484.4 948.3 L481.0 946.9 L477.9 945.9 L475.4 944.2 L473.5 943.0 L472.4 941.6 L470.6 940.0 L468.9 938.3 L468.4 935.5 L468.5 931.9 L468.9 928.7 L469.5 926.0 L470.0 923.2 L469.0 921.0 L467.3 918.9 L466.0 916.0 L464.5 913.1 L462.9 911.2 L460.8 908.9 L458.5 906.2 L455.8 904.0 L452.7 901.7 L450.2 899.8 L448.1 898.5 L445.8 897.2 L443.4 896.0 L440.6 894.6 L437.0 894.0 L433.6 895.0 L430.2 896.1 L427.1 897.0 L424.5 898.3 L422.6 899.3 L420.6 899.6 L418.0 900.3 L415.0 900.8 L411.6 900.1 L408.3 899.6 L405.8 899.0 L403.0 898.0 L399.7 897.4 L397.0 897.5 L394.1 897.6 L391.4 897.6 L389.1 897.2 L386.3 896.4 L383.1 895.9 L379.3 895.4 L375.6 895.8 L372.1 896.3 L369.2 896.5 L366.6 897.1 L363.7 898.0 L361.1 899.2 L358.3 900.2 L355.3 901.3 L352.2 902.4 L348.8 903.1 L345.4 903.7 L342.8 904.3 L340.6 905.1 L338.5 905.7 L335.6 906.0 L332.0 906.0 L328.9 906.3 L325.4 906.6 L322.4 907.4 L319.6 908.4 L316.2 908.6 L313.5 907.6 L310.6 905.9 L307.5 904.0 L304.5 902.2 L301.2 901.0 L298.3 900.2 L295.7 899.6 L292.9 899.5 L290.1 899.3 L287.5 898.5 L285.2 897.5 L282.9 895.9 L280.1 893.6 L277.7 891.1 L275.3 888.8 L272.9 886.5 L270.9 884.4 L268.9 882.8 L266.8 881.0 L265.1 879.2 L263.4 877.4 L261.3 874.5 L259.8 871.7 L258.2 869.3 L256.5 866.6 L254.9 863.7 L253.0 861.3 L251.0 859.0 L248.6 856.4 L246.4 854.3 L244.3 852.0 L242.0 849.3 L240.2 847.6 L238.3 845.9 L237.1 843.0 L236.6 839.6 L236.5 835.7 L236.3 832.3 L234.8 830.1 L232.6 828.4 L230.3 827.6 L227.8 826.7 L225.0 825.9 L222.8 825.0 L221.2 822.4 L219.9 819.1 L219.3 815.3 L218.0 811.7 L216.3 809.0 L215.2 806.3 L214.1 803.7 L213.3 801.3 L212.6 798.6 L210.3 796.2 L207.3 794.6 L204.2 793.6 L201.7 792.4 L199.5 791.5 L196.8 790.4 L193.2 789.4 L189.7 788.3 L186.6 787.8 L183.4 787.7 L180.6 787.2 L177.4 787.3 L174.4 786.8 L171.7 786.4 L169.0 786.2 L166.1 785.7 L162.9 785.7 L159.5 785.6 L156.7 785.5 L153.9 785.2 L150.9 784.9 Z" fill="none" stroke="#1C6DB8" stroke-width="13" stroke-linejoin="round" stroke-linecap="round"/>
</g>
<g font-family="'Liberation Sans', Arial, sans-serif" font-weight="bold" font-size="33.5" fill="#1B68B2" stroke="#1B68B2" stroke-width="0.5" stroke-linejoin="round">
<text x="451.8" y="452.5" textLength="178.4" lengthAdjust="spacingAndGlyphs">Kreuztal</text>
<text x="818.0" y="381.3" textLength="270.9" lengthAdjust="spacingAndGlyphs">Hilchenbach</text>
<text x="1288.3" y="365.4" textLength="269.6" lengthAdjust="spacingAndGlyphs">Erndtebrück</text>
<text x="1620.0" y="144.1" textLength="316.3" lengthAdjust="spacingAndGlyphs">Bad Berleburg</text>
<text x="107.1" y="696.5" textLength="277.0" lengthAdjust="spacingAndGlyphs">Freudenberg</text>
<text x="523.4" y="790.5" textLength="149.4" lengthAdjust="spacingAndGlyphs">Siegen</text>
<text x="1024.0" y="687.8" textLength="181.1" lengthAdjust="spacingAndGlyphs">Netphen</text>
<text x="1528.3" y="633.0" textLength="284.8" lengthAdjust="spacingAndGlyphs">Bad Laasphe</text>
<text x="842.9" y="969.4" textLength="213.6" lengthAdjust="spacingAndGlyphs">Wilnsdorf</text>
<text x="496.3" y="1155.3" textLength="275.9" lengthAdjust="spacingAndGlyphs">Neunkirchen</text>
</g>
<g class="boxes"><rect x="1668.5" y="176.2" width="119.1" height="79.6" rx="2.5" fill="#983838"/><rect x="1675.7" y="182.2" width="104.7" height="67.6" fill="#C9524E"/>
<rect x="1789.0" y="176.2" width="118.1" height="79.6" rx="2.5" fill="#77943C"/><rect x="1796.2" y="182.2" width="103.7" height="67.6" fill="#9BBB59"/>
<rect x="1791.0" y="256.5" width="116.1" height="80.4" rx="2.5" fill="#696969"/><rect x="1798.2" y="262.5" width="101.7" height="68.4" fill="#8C8C8C"/>
<rect x="842.6" y="415.0" width="118.5" height="79.8" rx="2.5" fill="#983838"/><rect x="849.8" y="421.0" width="104.1" height="67.8" fill="#C9524E"/>
<rect x="962.9" y="415.0" width="118.2" height="79.8" rx="2.5" fill="#77943C"/><rect x="970.1" y="421.0" width="103.8" height="67.8" fill="#9BBB59"/>
<rect x="966.0" y="496.0" width="116.1" height="79.5" rx="2.5" fill="#696969"/><rect x="973.2" y="502.0" width="101.7" height="67.5" fill="#8C8C8C"/>
<rect x="1304.5" y="390.8" width="119.3" height="79.6" rx="2.5" fill="#983838"/><rect x="1311.7" y="396.8" width="104.9" height="67.6" fill="#C9524E"/>
<rect x="1424.3" y="390.8" width="119.3" height="79.6" rx="2.5" fill="#77943C"/><rect x="1431.5" y="396.8" width="104.9" height="67.6" fill="#9BBB59"/>
<rect x="442.3" y="488.2" width="118.8" height="79.6" rx="2.5" fill="#983838"/><rect x="449.5" y="494.2" width="104.4" height="67.6" fill="#C9524E"/>
<rect x="562.6" y="488.2" width="118.3" height="79.6" rx="2.5" fill="#77943C"/><rect x="569.8" y="494.2" width="103.9" height="67.6" fill="#9BBB59"/>
<rect x="565.2" y="568.5" width="115.7" height="80.2" rx="2.5" fill="#696969"/><rect x="572.4" y="574.5" width="101.3" height="68.2" fill="#8C8C8C"/>
<rect x="147.0" y="733.0" width="118.4" height="79.5" rx="2.5" fill="#983838"/><rect x="154.2" y="739.0" width="104.0" height="67.5" fill="#C9524E"/>
<rect x="266.4" y="733.0" width="118.2" height="79.5" rx="2.5" fill="#77943C"/><rect x="273.6" y="739.0" width="103.8" height="67.5" fill="#9BBB59"/>
<rect x="269.0" y="814.0" width="115.6" height="77.7" rx="2.5" fill="#696969"/><rect x="276.2" y="820.0" width="101.2" height="65.7" fill="#8C8C8C"/>
<rect x="510.0" y="827.6" width="118.0" height="79.9" rx="2.5" fill="#983838"/><rect x="517.2" y="833.6" width="103.6" height="67.9" fill="#C9524E"/>
<rect x="628.8" y="827.6" width="118.8" height="79.9" rx="2.5" fill="#77943C"/><rect x="636.0" y="833.6" width="104.4" height="67.9" fill="#9BBB59"/>
<rect x="628.4" y="908.7" width="119.2" height="79.2" rx="2.5" fill="#696969"/><rect x="635.6" y="914.7" width="104.8" height="67.2" fill="#8C8C8C"/>
<rect x="1019.0" y="720.2" width="118.8" height="80.0" rx="2.5" fill="#983838"/><rect x="1026.2" y="726.2" width="104.4" height="68.0" fill="#C9524E"/>
<rect x="1138.9" y="720.2" width="118.7" height="80.0" rx="2.5" fill="#77943C"/><rect x="1146.1" y="726.2" width="104.3" height="68.0" fill="#9BBB59"/>
<rect x="1141.0" y="801.7" width="116.6" height="79.8" rx="2.5" fill="#696969"/><rect x="1148.2" y="807.7" width="102.2" height="67.8" fill="#8C8C8C"/>
<rect x="1556.3" y="672.0" width="118.8" height="79.8" rx="2.5" fill="#983838"/><rect x="1563.5" y="678.0" width="104.4" height="67.8" fill="#C9524E"/>
<rect x="1676.3" y="672.0" width="118.8" height="79.8" rx="2.5" fill="#77943C"/><rect x="1683.5" y="678.0" width="104.4" height="67.8" fill="#9BBB59"/>
<rect x="1676.3" y="751.5" width="118.8" height="72.2" rx="2.5" fill="#696969"/><rect x="1683.5" y="757.5" width="104.4" height="60.2" fill="#8C8C8C"/>
<rect x="843.6" y="994.6" width="118.4" height="79.6" rx="2.5" fill="#983838"/><rect x="850.8" y="1000.6" width="104.0" height="67.6" fill="#C9524E"/>
<rect x="959.2" y="994.6" width="118.8" height="79.6" rx="2.5" fill="#77943C"/><rect x="966.4" y="1000.6" width="104.4" height="67.6" fill="#9BBB59"/>
<rect x="959.5" y="1076.0" width="116.3" height="78.4" rx="2.5" fill="#696969"/><rect x="966.7" y="1082.0" width="101.9" height="66.4" fill="#8C8C8C"/>
<rect x="485.3" y="1186.0" width="118.1" height="79.4" rx="2.5" fill="#983838"/><rect x="492.5" y="1192.0" width="103.7" height="67.4" fill="#C9524E"/>
<rect x="604.1" y="1186.0" width="118.5" height="79.4" rx="2.5" fill="#77943C"/><rect x="611.3" y="1192.0" width="104.1" height="67.4" fill="#9BBB59"/>
<rect x="604.4" y="1267.6" width="115.3" height="79.4" rx="2.5" fill="#696969"/><rect x="611.6" y="1273.6" width="100.9" height="67.4" fill="#8C8C8C"/>
<rect x="1705.3" y="1023.0" width="142.2" height="79.7" rx="2.5" fill="#983838"/><rect x="1713.3" y="1029.6" width="126.2" height="66.5" fill="#C9524E"/>
<rect x="1705.3" y="1112.2" width="142.2" height="79.6" rx="2.5" fill="#77943C"/><rect x="1713.3" y="1118.8" width="126.2" height="66.4" fill="#9BBB59"/>
<rect x="1705.3" y="1203.1" width="142.2" height="79.9" rx="2.5" fill="#696969"/><rect x="1713.3" y="1209.7" width="126.2" height="66.7" fill="#8C8C8C"/></g>
<g class="nums" font-family="'Liberation Sans', Arial, sans-serif" font-weight="bold" font-size="48" fill="#fff" filter="url(#ns)"><text x="1683.6" y="236.5">621</text>
<text x="1805.1" y="236.8">600</text>
<text x="1828.8" y="315.2">8</text>
<text x="861.7" y="473.3">759</text>
<text x="979.7" y="473.1">724</text>
<text x="997.0" y="553.9">13</text>
<text x="1327.8" y="445.5">213</text>
<text x="1446.5" y="445.5">205</text>
<text x="447.0" y="546.6">1378</text>
<text x="565.4" y="546.6">1343</text>
<text x="598.3" y="626.5">12</text>
<text x="162.5" y="793.9">514</text>
<text x="281.3" y="793.9">498</text>
<text x="306.8" y="868.3">9</text>
<text x="513.4" y="887.5">4849</text>
<text x="631.7" y="887.5">4668</text>
<text x="654.5" y="963.3">70</text>
<text x="1038.3" y="782.2">868</text>
<text x="1157.4" y="782.1">796</text>
<text x="1187.5" y="861.1">7</text>
<text x="1578.6" y="735.4">333</text>
<text x="1697.1" y="735.4">323</text>
<text x="1724.5" y="805.5">2</text>
<text x="861.1" y="1052.6">590</text>
<text x="977.8" y="1052.4">571</text>
<text x="998.4" y="1130.3">13</text>
<text x="500.2" y="1244.3">727</text>
<text x="618.6" y="1244.2">699</text>
<text x="1709.3" y="1085.4">11504</text>
<text x="1709.7" y="1175.5">11049</text>
<text x="1737.3" y="1255.7">175</text></g>
<text x="1697" y="980.3" textLength="466" lengthAdjust="spacingAndGlyphs" font-family="'Liberation Sans', Arial, sans-serif" font-weight="bold" font-size="69" fill="#1470BC" filter="url(#ts)">Gesamtanzahl</text>
<g font-family="'Liberation Sans', Arial, sans-serif" font-size="39" fill="#000">
<text x="1878" y="1085.2" textLength="257" lengthAdjust="spacingAndGlyphs">bisher Infiziert</text>
<text x="1878" y="1174.8" textLength="296" lengthAdjust="spacingAndGlyphs">davon Genesene</text>
<text x="1883" y="1254.8" textLength="218" lengthAdjust="spacingAndGlyphs">Verstorbene</text>
</g>
<g id="wappen">
<clipPath id="shc"><path d="M2395.3,937.6 H2675.2 V1165.0 A139.9,127 0 0 1 2535.25,1292.0 A139.9,127 0 0 1 2395.3,1165.0 Z"/></clipPath>
<g clip-path="url(#shc)">
<rect x="2390" y="930" width="292" height="228" fill="#fff"/>
<rect x="2390" y="1156" width="292" height="160" fill="#F6BE2C"/>
<rect x="2426" y="935" width="26.0" height="222" fill="#1A1A1A"/>
<rect x="2479.4" y="935" width="26.1" height="222" fill="#1A1A1A"/>
<rect x="2535.2" y="935" width="140" height="221" fill="#1B86B6"/>
<rect x="2533.4" y="935" width="3.8" height="222" fill="#1A1A1A"/>
<rect x="2390" y="1154.9" width="292" height="3.8" fill="#1A1A1A"/>
</g>
<g transform="translate(2530,930) scale(0.19851)" stroke-linejoin="round">
<g fill="#F6BE2C" stroke="#1A1A1A" stroke-width="6">
<rect x="98" y="87" width="34" height="76"/>
<rect x="353" y="87" width="34" height="76"/>
<rect x="611" y="87" width="34" height="76"/>
<rect x="351" y="552" width="34" height="76"/>
<rect x="98" y="999" width="34" height="76"/>
<rect x="353" y="999" width="34" height="76"/>
<rect x="611" y="999" width="34" height="76"/>
</g>
<g fill="none" stroke-linecap="round">
<path d="M535,690 C560,745 620,765 660,730 C700,690 680,630 630,585 C590,550 545,510 540,465 C538,430 575,415 610,418 C640,420 655,435 664,452" stroke="#1A1A1A" stroke-width="32"/>
<path d="M562,428 C590,400 580,340 592,290 C598,260 604,240 606,218" stroke="#1A1A1A" stroke-width="32"/>
<path d="M590,385 C610,360 640,350 670,360" stroke="#1A1A1A" stroke-width="32"/>
<path d="M535,690 C560,745 620,765 660,730 C700,690 680,630 630,585 C590,550 545,510 540,465 C538,430 575,415 610,418 C640,420 655,435 664,452" stroke="#F6BE2C" stroke-width="18"/>
<path d="M562,428 C590,400 580,340 592,290 C598,260 604,240 606,218" stroke="#F6BE2C" stroke-width="18"/>
<path d="M590,385 C610,360 640,350 670,360" stroke="#F6BE2C" stroke-width="18"/>
</g>
<g fill="#F6BE2C" stroke="#1A1A1A" stroke-width="18">
<path d="M420,740 C440,790 470,850 474,900 L462,942 L420,952 L385,958 L360,975 L372,993 L412,984 L396,1020 L390,1040 L405,1046 L432,1004 L446,1040 L452,1060 L466,1054 L466,1010 L500,1040 L512,1046 L518,1030 L496,995 L512,985 L540,962 L532,930 L558,922 L548,895 L578,880 L556,850 L546,790 L535,700 Z"/>
<path d="M440,635 L398,650 L362,712 L300,728 L240,698 L218,650 L204,640 L208,682 L160,690 L140,690 L145,706 L190,712 L160,742 L150,756 L165,766 L200,736 L200,780 L206,796 L220,790 L226,746 L245,762 L280,792 L300,770 L330,822 L350,800 L380,832 L402,790 L430,760 L450,700 Z"/>
<path d="M410,465 L330,468 L290,484 L220,478 L176,468 L160,440 L126,430 L115,445 L140,470 L110,480 L80,495 L85,512 L130,506 L105,530 L100,550 L115,556 L150,530 L156,575 L165,590 L178,580 L180,540 L215,546 L230,580 L250,552 L275,590 L290,560 L320,600 L332,570 L370,602 L410,565 Z"/>
<path d="M322,180 L380,152 L440,135 L495,152 L520,172 L548,135 L545,188 L528,206 L552,250 L538,268 L556,318 L538,336 L553,390 L530,396 L522,455 L498,432 L486,450 C505,520 525,620 540,720 L548,800 L480,880 L440,800 L412,745 C392,700 388,640 398,600 L392,540 L372,470 L392,440 L384,400 L346,360 L378,335 L400,300 L380,290 L342,278 L340,256 L398,262 L416,243 L396,230 L330,212 Z"/>
<path d="M362,342 L300,298 L255,258 L226,224 L216,190 L230,142 L216,130 L200,176 L186,150 L166,126 L150,136 L170,186 L130,190 L96,196 L100,216 L150,216 L120,240 L100,250 L116,262 L160,246 L186,250 L190,290 L216,300 L206,330 L236,340 L236,376 L266,376 L270,410 L300,406 L310,440 L336,420 L365,445 L400,410 Z"/>
</g>
<g fill="#F6BE2C" stroke="none">
<path d="M420,740 C440,790 470,850 474,900 L462,942 L420,952 L385,958 L360,975 L372,993 L412,984 L396,1020 L390,1040 L405,1046 L432,1004 L446,1040 L452,1060 L466,1054 L466,1010 L500,1040 L512,1046 L518,1030 L496,995 L512,985 L540,962 L532,930 L558,922 L548,895 L578,880 L556,850 L546,790 L535,700 Z"/>
<path d="M440,635 L398,650 L362,712 L300,728 L240,698 L218,650 L204,640 L208,682 L160,690 L140,690 L145,706 L190,712 L160,742 L150,756 L165,766 L200,736 L200,780 L206,796 L220,790 L226,746 L245,762 L280,792 L300,770 L330,822 L350,800 L380,832 L402,790 L430,760 L450,700 Z"/>
<path d="M410,465 L330,468 L290,484 L220,478 L176,468 L160,440 L126,430 L115,445 L140,470 L110,480 L80,495 L85,512 L130,506 L105,530 L100,550 L115,556 L150,530 L156,575 L165,590 L178,580 L180,540 L215,546 L230,580 L250,552 L275,590 L290,560 L320,600 L332,570 L370,602 L410,565 Z"/>
<path d="M322,180 L380,152 L440,135 L495,152 L520,172 L548,135 L545,188 L528,206 L552,250 L538,268 L556,318 L538,336 L553,390 L530,396 L522,455 L498,432 L486,450 C505,520 525,620 540,720 L548,800 L480,880 L440,800 L412,745 C392,700 388,640 398,600 L392,540 L372,470 L392,440 L384,400 L346,360 L378,335 L400,300 L380,290 L342,278 L340,256 L398,262 L416,243 L396,230 L330,212 Z"/>
<path d="M362,342 L300,298 L255,258 L226,224 L216,190 L230,142 L216,130 L200,176 L186,150 L166,126 L150,136 L170,186 L130,190 L96,196 L100,216 L150,216 L120,240 L100,250 L116,262 L160,246 L186,250 L190,290 L216,300 L206,330 L236,340 L236,376 L266,376 L270,410 L300,406 L310,440 L336,420 L365,445 L400,410 Z"/>
</g>
<g fill="none" stroke="#1A1A1A" stroke-width="5" stroke-linecap="round">
<path d="M400,300 L346,356 L396,372 L392,440 L440,402 L470,450 L496,420 L522,455"/>
<path d="M410,470 L405,540 L380,600"/>
<path d="M440,635 C415,660 402,700 412,745"/>
</g>
<g fill="#E27C8C" stroke="none">
<circle cx="222" cy="136" r="9"/>
<circle cx="158" cy="130" r="9"/>
<circle cx="98" cy="206" r="9"/>
<circle cx="108" cy="256" r="9"/>
<circle cx="120" cy="437" r="9"/>
<circle cx="82" cy="503" r="9"/>
<circle cx="107" cy="552" r="9"/>
<circle cx="171" cy="585" r="9"/>
<circle cx="210" cy="645" r="9"/>
<circle cx="142" cy="698" r="9"/>
<circle cx="157" cy="760" r="9"/>
<circle cx="213" cy="793" r="9"/>
<circle cx="366" cy="984" r="9"/>
<circle cx="397" cy="1043" r="9"/>
<circle cx="459" cy="1057" r="9"/>
<circle cx="515" cy="1038" r="9"/>
</g>
<path d="M330,205 C300,198 282,215 288,236 C298,254 340,252 405,240 C380,230 340,236 318,228 C310,220 318,212 335,215 Z" fill="#D9587A" stroke="#1A1A1A" stroke-width="4"/>
<path d="M405,170 L442,178 L425,188 Z" fill="#1A1A1A" stroke="none"/>
</g>
<g transform="translate(2380,1140) scale(0.12422)" stroke="#1A1A1A" stroke-width="17" stroke-linejoin="round" fill="#1B86B6">
<path d="M1185,668 L1690,890 C1725,905 1745,935 1735,960 C1725,985 1690,995 1655,982 L1150,750 Z"/>
<path d="M342,410 C350,360 390,318 445,316 C460,316 470,318 480,322 L1185,665 L1140,760 C1130,772 1118,775 1105,770 L460,478 C430,470 405,480 395,500 L388,516 C362,505 338,465 342,410 Z"/>
<path d="M1735,255 H1950 C2010,255 2035,290 2035,340 V640" fill="none" stroke-width="26" stroke-linejoin="miter"/>
<rect x="1625" y="525" width="395" height="112"/>
<rect x="1478" y="515" width="147" height="124"/>
<rect x="1495" y="487" width="65" height="28" fill="#F6BE2C" stroke-width="8"/>
<path d="M1525,300 C1545,340 1560,380 1555,420 C1550,450 1535,465 1525,468 C1512,462 1497,448 1495,420 C1492,380 1510,340 1525,300 Z" fill="#E8472E" stroke-width="8"/>
</g>
<path d="M2395.3,937.6 H2675.2 V1165.0 A139.9,127 0 0 1 2535.25,1292.0 A139.9,127 0 0 1 2395.3,1165.0 Z" fill="none" stroke="#1A1A1A" stroke-width="4.4"/>
</g>
</svg>
</body></html>
